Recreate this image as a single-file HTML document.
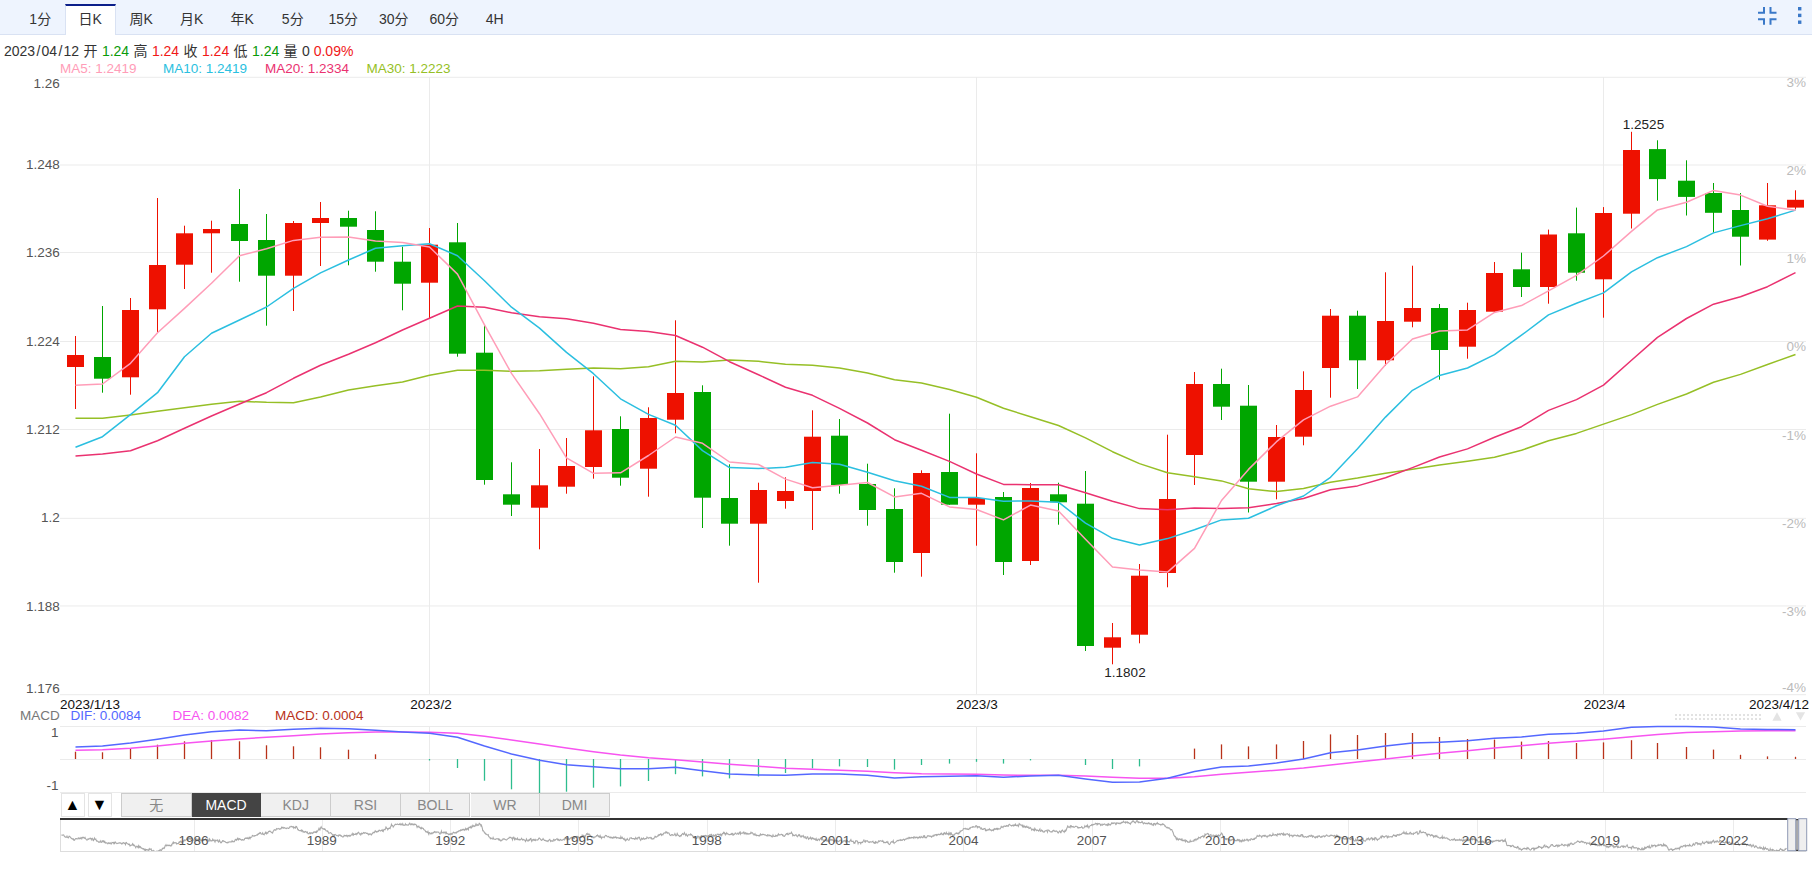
<!DOCTYPE html>
<html lang="zh"><head><meta charset="utf-8"><title>K线图</title>
<style>
html,body{margin:0;padding:0;background:#fff;}
body{width:1812px;height:886px;position:relative;overflow:hidden;font-family:"Liberation Sans","Noto Sans CJK SC",sans-serif;}
.bar{position:absolute;left:0;top:0;width:1812px;height:34px;background:#eef4fe;border-bottom:1px solid #d9e2f3;}
.tab{position:absolute;top:4px;width:50.5px;height:31px;line-height:30px;text-align:center;font-size:14px;color:#333;box-sizing:border-box;}
.tab.on{background:#fff;border-top:2px solid #0b1f8a;border-left:1px solid #d9e2f3;border-right:1px solid #d9e2f3;line-height:27px;}
.info{position:absolute;left:4px;top:41px;height:20px;line-height:20px;font-size:14px;color:#333;white-space:nowrap;}
.info i{font-style:normal;padding:0 1.25px} .info b{font-weight:normal;padding:0 0.5px} .info .g{color:#0a9a0a} .info .r{color:#f01818}
.ab{position:absolute;top:793px;width:24px;height:24px;box-sizing:border-box;border:1px solid #e4e4e4;background:#fff;font-size:16px;line-height:22px;text-align:center;color:#000;}
.it{position:absolute;top:793px;width:69.7px;height:24px;box-sizing:border-box;border:1px solid #ccc;border-left:none;background:#f0f0f0;color:#888;font-size:14px;line-height:23px;text-align:center;}
.it.on{background:#444;color:#fff;border-color:#444;}
svg{position:absolute;left:0;top:0;}
</style></head><body>
<div class="bar"></div>
<div class="tab" style="left:15.0px">1分</div><div class="tab on" style="left:65.0px">日K</div><div class="tab" style="left:116.0px">周K</div><div class="tab" style="left:166.5px">月K</div><div class="tab" style="left:217.0px">年K</div><div class="tab" style="left:267.5px">5分</div><div class="tab" style="left:318.0px">15分</div><div class="tab" style="left:368.5px">30分</div><div class="tab" style="left:419.0px">60分</div><div class="tab" style="left:469.5px">4H</div>
<svg width="1812" height="886" viewBox="0 0 1812 886">
<g fill="none" stroke="#3a78c8" stroke-width="2"><path d="M1758,12.7 H1764 V7"/><path d="M1770.5,7 V12.7 H1776.5"/><path d="M1758,19.2 H1764 V24.7"/><path d="M1776.5,19.2 H1770.5 V24.7"/></g>
<g fill="#3a78c8"><rect x="1798" y="7" width="3.4" height="3.4"/><rect x="1798" y="13.7" width="3.4" height="3.4"/><rect x="1798" y="20.5" width="3.4" height="3.4"/></g>
<line x1="60" y1="77.3" x2="1806" y2="77.3" stroke="#ebebeb" stroke-width="1"/>
<line x1="60" y1="165.0" x2="1806" y2="165.0" stroke="#ebebeb" stroke-width="1"/>
<line x1="60" y1="252.5" x2="1806" y2="252.5" stroke="#ebebeb" stroke-width="1"/>
<line x1="60" y1="341.5" x2="1806" y2="341.5" stroke="#ebebeb" stroke-width="1"/>
<line x1="60" y1="429.5" x2="1806" y2="429.5" stroke="#ebebeb" stroke-width="1"/>
<line x1="60" y1="518.35" x2="1806" y2="518.35" stroke="#ebebeb" stroke-width="1"/>
<line x1="60" y1="605.95" x2="1806" y2="605.95" stroke="#ebebeb" stroke-width="1"/>
<line x1="60" y1="694.7" x2="1806" y2="694.7" stroke="#ebebeb" stroke-width="1"/>
<line x1="429.5" y1="77" x2="429.5" y2="694" stroke="#ebebeb" stroke-width="1"/>
<line x1="429.5" y1="726" x2="429.5" y2="792" stroke="#ebebeb" stroke-width="1"/>
<line x1="976.5" y1="77" x2="976.5" y2="694" stroke="#ebebeb" stroke-width="1"/>
<line x1="976.5" y1="726" x2="976.5" y2="792" stroke="#ebebeb" stroke-width="1"/>
<line x1="1603.5" y1="77" x2="1603.5" y2="694" stroke="#ebebeb" stroke-width="1"/>
<line x1="1603.5" y1="726" x2="1603.5" y2="792" stroke="#ebebeb" stroke-width="1"/>
<line x1="60" y1="726.5" x2="1806" y2="726.5" stroke="#ebebeb" stroke-width="1"/>
<line x1="60" y1="759.5" x2="1806" y2="759.5" stroke="#ebebeb" stroke-width="1"/>
<line x1="60" y1="792.5" x2="1806" y2="792.5" stroke="#ebebeb" stroke-width="1"/>
<line x1="75.5" y1="336.0" x2="75.5" y2="409.0" stroke="#ee1100" stroke-width="1"/>
<rect x="67.0" y="355.0" width="17" height="12.0" fill="#ee1100"/>
<line x1="102.5" y1="306.0" x2="102.5" y2="392.7" stroke="#00a600" stroke-width="1"/>
<rect x="94.0" y="357.0" width="17" height="21.7" fill="#00a600"/>
<line x1="130.5" y1="298.0" x2="130.5" y2="394.7" stroke="#ee1100" stroke-width="1"/>
<rect x="122.0" y="310.0" width="17" height="67.3" fill="#ee1100"/>
<line x1="157.5" y1="198.0" x2="157.5" y2="332.0" stroke="#ee1100" stroke-width="1"/>
<rect x="149.0" y="265.0" width="17" height="44.3" fill="#ee1100"/>
<line x1="184.5" y1="225.7" x2="184.5" y2="289.0" stroke="#ee1100" stroke-width="1"/>
<rect x="176.0" y="233.3" width="17" height="31.4" fill="#ee1100"/>
<line x1="211.5" y1="220.7" x2="211.5" y2="272.7" stroke="#ee1100" stroke-width="1"/>
<rect x="203.0" y="229.0" width="17" height="4.3" fill="#ee1100"/>
<line x1="239.5" y1="189.0" x2="239.5" y2="281.7" stroke="#00a600" stroke-width="1"/>
<rect x="231.0" y="224.0" width="17" height="17.0" fill="#00a600"/>
<line x1="266.5" y1="214.0" x2="266.5" y2="325.7" stroke="#00a600" stroke-width="1"/>
<rect x="258.0" y="240.0" width="17" height="35.7" fill="#00a600"/>
<line x1="293.5" y1="221.0" x2="293.5" y2="311.0" stroke="#ee1100" stroke-width="1"/>
<rect x="285.0" y="223.0" width="17" height="52.7" fill="#ee1100"/>
<line x1="320.5" y1="202.0" x2="320.5" y2="266.0" stroke="#ee1100" stroke-width="1"/>
<rect x="312.0" y="218.0" width="17" height="5.0" fill="#ee1100"/>
<line x1="348.5" y1="210.7" x2="348.5" y2="265.3" stroke="#00a600" stroke-width="1"/>
<rect x="340.0" y="218.0" width="17" height="8.7" fill="#00a600"/>
<line x1="375.5" y1="211.3" x2="375.5" y2="271.7" stroke="#00a600" stroke-width="1"/>
<rect x="367.0" y="230.0" width="17" height="31.7" fill="#00a600"/>
<line x1="402.5" y1="246.7" x2="402.5" y2="310.3" stroke="#00a600" stroke-width="1"/>
<rect x="394.0" y="261.7" width="17" height="22.0" fill="#00a600"/>
<line x1="429.5" y1="228.0" x2="429.5" y2="318.3" stroke="#ee1100" stroke-width="1"/>
<rect x="421.0" y="244.7" width="17" height="38.0" fill="#ee1100"/>
<line x1="457.5" y1="223.0" x2="457.5" y2="356.7" stroke="#00a600" stroke-width="1"/>
<rect x="449.0" y="242.3" width="17" height="111.4" fill="#00a600"/>
<line x1="484.5" y1="324.0" x2="484.5" y2="484.7" stroke="#00a600" stroke-width="1"/>
<rect x="476.0" y="352.7" width="17" height="127.3" fill="#00a600"/>
<line x1="511.5" y1="462.3" x2="511.5" y2="516.0" stroke="#00a600" stroke-width="1"/>
<rect x="503.0" y="494.3" width="17" height="10.4" fill="#00a600"/>
<line x1="539.5" y1="449.0" x2="539.5" y2="549.3" stroke="#ee1100" stroke-width="1"/>
<rect x="531.0" y="485.3" width="17" height="22.4" fill="#ee1100"/>
<line x1="566.5" y1="438.0" x2="566.5" y2="493.7" stroke="#ee1100" stroke-width="1"/>
<rect x="558.0" y="466.0" width="17" height="20.7" fill="#ee1100"/>
<line x1="593.5" y1="376.3" x2="593.5" y2="478.7" stroke="#ee1100" stroke-width="1"/>
<rect x="585.0" y="430.3" width="17" height="36.7" fill="#ee1100"/>
<line x1="620.5" y1="416.3" x2="620.5" y2="485.7" stroke="#00a600" stroke-width="1"/>
<rect x="612.0" y="429.0" width="17" height="48.7" fill="#00a600"/>
<line x1="648.5" y1="407.3" x2="648.5" y2="496.7" stroke="#ee1100" stroke-width="1"/>
<rect x="640.0" y="418.0" width="17" height="50.7" fill="#ee1100"/>
<line x1="675.5" y1="320.3" x2="675.5" y2="433.3" stroke="#ee1100" stroke-width="1"/>
<rect x="667.0" y="393.0" width="17" height="26.7" fill="#ee1100"/>
<line x1="702.5" y1="385.3" x2="702.5" y2="528.0" stroke="#00a600" stroke-width="1"/>
<rect x="694.0" y="392.0" width="17" height="105.7" fill="#00a600"/>
<line x1="729.5" y1="464.3" x2="729.5" y2="545.7" stroke="#00a600" stroke-width="1"/>
<rect x="721.0" y="498.0" width="17" height="25.7" fill="#00a600"/>
<line x1="758.5" y1="482.7" x2="758.5" y2="582.7" stroke="#ee1100" stroke-width="1"/>
<rect x="750.0" y="490.0" width="17" height="33.7" fill="#ee1100"/>
<line x1="785.5" y1="477.3" x2="785.5" y2="508.7" stroke="#ee1100" stroke-width="1"/>
<rect x="777.0" y="491.0" width="17" height="10.0" fill="#ee1100"/>
<line x1="812.5" y1="410.3" x2="812.5" y2="530.0" stroke="#ee1100" stroke-width="1"/>
<rect x="804.0" y="436.7" width="17" height="54.3" fill="#ee1100"/>
<line x1="839.5" y1="419.0" x2="839.5" y2="493.7" stroke="#00a600" stroke-width="1"/>
<rect x="831.0" y="435.7" width="17" height="49.3" fill="#00a600"/>
<line x1="867.5" y1="463.7" x2="867.5" y2="525.7" stroke="#00a600" stroke-width="1"/>
<rect x="859.0" y="484.0" width="17" height="26.0" fill="#00a600"/>
<line x1="894.5" y1="488.3" x2="894.5" y2="572.7" stroke="#00a600" stroke-width="1"/>
<rect x="886.0" y="509.0" width="17" height="53.0" fill="#00a600"/>
<line x1="921.5" y1="470.3" x2="921.5" y2="576.7" stroke="#ee1100" stroke-width="1"/>
<rect x="913.0" y="473.0" width="17" height="80.0" fill="#ee1100"/>
<line x1="949.5" y1="413.7" x2="949.5" y2="504.7" stroke="#00a600" stroke-width="1"/>
<rect x="941.0" y="472.0" width="17" height="32.7" fill="#00a600"/>
<line x1="976.5" y1="453.3" x2="976.5" y2="545.7" stroke="#ee1100" stroke-width="1"/>
<rect x="968.0" y="498.0" width="17" height="6.7" fill="#ee1100"/>
<line x1="1003.5" y1="492.0" x2="1003.5" y2="575.0" stroke="#00a600" stroke-width="1"/>
<rect x="995.0" y="497.0" width="17" height="65.0" fill="#00a600"/>
<line x1="1030.5" y1="483.0" x2="1030.5" y2="565.0" stroke="#ee1100" stroke-width="1"/>
<rect x="1022.0" y="488.0" width="17" height="73.0" fill="#ee1100"/>
<line x1="1058.5" y1="482.7" x2="1058.5" y2="524.7" stroke="#00a600" stroke-width="1"/>
<rect x="1050.0" y="494.3" width="17" height="8.0" fill="#00a600"/>
<line x1="1085.5" y1="471.0" x2="1085.5" y2="651.0" stroke="#00a600" stroke-width="1"/>
<rect x="1077.0" y="503.7" width="17" height="142.3" fill="#00a600"/>
<line x1="1112.5" y1="623.0" x2="1112.5" y2="664.3" stroke="#ee1100" stroke-width="1"/>
<rect x="1104.0" y="637.3" width="17" height="10.4" fill="#ee1100"/>
<line x1="1139.5" y1="564.0" x2="1139.5" y2="643.3" stroke="#ee1100" stroke-width="1"/>
<rect x="1131.0" y="575.7" width="17" height="59.0" fill="#ee1100"/>
<line x1="1167.5" y1="434.7" x2="1167.5" y2="587.3" stroke="#ee1100" stroke-width="1"/>
<rect x="1159.0" y="499.0" width="17" height="74.0" fill="#ee1100"/>
<line x1="1194.5" y1="372.0" x2="1194.5" y2="485.0" stroke="#ee1100" stroke-width="1"/>
<rect x="1186.0" y="384.0" width="17" height="71.0" fill="#ee1100"/>
<line x1="1221.5" y1="368.7" x2="1221.5" y2="420.0" stroke="#00a600" stroke-width="1"/>
<rect x="1213.0" y="384.0" width="17" height="22.7" fill="#00a600"/>
<line x1="1248.5" y1="385.0" x2="1248.5" y2="512.5" stroke="#00a600" stroke-width="1"/>
<rect x="1240.0" y="405.7" width="17" height="76.0" fill="#00a600"/>
<line x1="1276.5" y1="425.0" x2="1276.5" y2="499.3" stroke="#ee1100" stroke-width="1"/>
<rect x="1268.0" y="437.0" width="17" height="44.7" fill="#ee1100"/>
<line x1="1303.5" y1="371.3" x2="1303.5" y2="445.3" stroke="#ee1100" stroke-width="1"/>
<rect x="1295.0" y="390.0" width="17" height="46.7" fill="#ee1100"/>
<line x1="1330.5" y1="309.0" x2="1330.5" y2="397.7" stroke="#ee1100" stroke-width="1"/>
<rect x="1322.0" y="315.7" width="17" height="52.3" fill="#ee1100"/>
<line x1="1357.5" y1="310.7" x2="1357.5" y2="389.0" stroke="#00a600" stroke-width="1"/>
<rect x="1349.0" y="315.7" width="17" height="44.6" fill="#00a600"/>
<line x1="1385.5" y1="272.3" x2="1385.5" y2="365.7" stroke="#ee1100" stroke-width="1"/>
<rect x="1377.0" y="321.0" width="17" height="39.3" fill="#ee1100"/>
<line x1="1412.5" y1="265.7" x2="1412.5" y2="327.3" stroke="#ee1100" stroke-width="1"/>
<rect x="1404.0" y="308.0" width="17" height="13.7" fill="#ee1100"/>
<line x1="1439.5" y1="304.0" x2="1439.5" y2="379.7" stroke="#00a600" stroke-width="1"/>
<rect x="1431.0" y="308.0" width="17" height="42.0" fill="#00a600"/>
<line x1="1467.5" y1="302.7" x2="1467.5" y2="358.7" stroke="#ee1100" stroke-width="1"/>
<rect x="1459.0" y="310.0" width="17" height="36.7" fill="#ee1100"/>
<line x1="1494.5" y1="262.0" x2="1494.5" y2="311.7" stroke="#ee1100" stroke-width="1"/>
<rect x="1486.0" y="273.0" width="17" height="38.7" fill="#ee1100"/>
<line x1="1521.5" y1="252.7" x2="1521.5" y2="297.0" stroke="#00a600" stroke-width="1"/>
<rect x="1513.0" y="269.3" width="17" height="17.7" fill="#00a600"/>
<line x1="1548.5" y1="229.6" x2="1548.5" y2="303.7" stroke="#ee1100" stroke-width="1"/>
<rect x="1540.0" y="234.5" width="17" height="52.5" fill="#ee1100"/>
<line x1="1576.5" y1="207.6" x2="1576.5" y2="280.7" stroke="#00a600" stroke-width="1"/>
<rect x="1568.0" y="233.3" width="17" height="39.4" fill="#00a600"/>
<line x1="1603.5" y1="207.1" x2="1603.5" y2="317.7" stroke="#ee1100" stroke-width="1"/>
<rect x="1595.0" y="213.0" width="17" height="66.3" fill="#ee1100"/>
<line x1="1631.5" y1="131.8" x2="1631.5" y2="228.5" stroke="#ee1100" stroke-width="1"/>
<rect x="1623.0" y="150.0" width="17" height="63.7" fill="#ee1100"/>
<line x1="1657.5" y1="140.3" x2="1657.5" y2="200.7" stroke="#00a600" stroke-width="1"/>
<rect x="1649.0" y="149.1" width="17" height="30.0" fill="#00a600"/>
<line x1="1686.5" y1="160.3" x2="1686.5" y2="215.5" stroke="#00a600" stroke-width="1"/>
<rect x="1678.0" y="180.7" width="17" height="16.2" fill="#00a600"/>
<line x1="1713.5" y1="183.0" x2="1713.5" y2="232.6" stroke="#00a600" stroke-width="1"/>
<rect x="1705.0" y="193.0" width="17" height="19.8" fill="#00a600"/>
<line x1="1740.5" y1="193.0" x2="1740.5" y2="265.5" stroke="#00a600" stroke-width="1"/>
<rect x="1732.0" y="210.0" width="17" height="26.7" fill="#00a600"/>
<line x1="1767.5" y1="183.0" x2="1767.5" y2="240.8" stroke="#ee1100" stroke-width="1"/>
<rect x="1759.0" y="205.3" width="17" height="34.3" fill="#ee1100"/>
<line x1="1795.5" y1="190.3" x2="1795.5" y2="209.4" stroke="#ee1100" stroke-width="1"/>
<rect x="1787.0" y="199.8" width="17" height="7.8" fill="#ee1100"/>
<polyline points="75.5,418.3 102.5,418.3 130.5,415.0 157.5,411.3 184.5,407.7 211.5,404.3 239.5,401.3 266.5,402.3 293.5,402.7 320.5,397.0 348.5,390.0 375.5,385.7 402.5,382.0 429.5,375.3 457.5,370.3 484.5,370.3 511.5,371.3 539.5,370.7 566.5,369.3 593.5,368.0 620.5,368.7 648.5,366.7 675.5,361.3 702.5,362.0 729.5,360.0 758.5,361.3 785.5,364.3 812.5,365.3 839.5,368.0 867.5,372.9 894.5,379.8 921.5,383.0 949.5,389.5 976.5,397.2 1003.5,408.2 1030.5,416.8 1058.5,425.5 1085.5,437.9 1112.5,451.7 1139.5,463.6 1167.5,472.7 1194.5,476.8 1221.5,480.9 1248.5,488.8 1276.5,491.6 1303.5,488.6 1330.5,482.2 1357.5,478.1 1385.5,473.2 1412.5,469.2 1439.5,464.9 1467.5,461.3 1494.5,457.3 1521.5,450.3 1548.5,440.7 1576.5,433.4 1603.5,424.1 1631.5,414.6 1657.5,404.4 1686.5,394.0 1713.5,382.3 1740.5,374.4 1767.5,364.5 1795.5,354.5" fill="none" stroke="#96bf26" stroke-width="1.5" stroke-linejoin="round"/>
<polyline points="75.5,456.0 102.5,454.0 130.5,450.7 157.5,440.7 184.5,428.3 211.5,416.0 239.5,404.0 266.5,392.7 293.5,378.3 320.5,365.3 348.5,354.3 375.5,342.7 402.5,330.0 429.5,318.3 457.5,306.0 484.5,307.3 511.5,312.7 539.5,316.7 566.5,318.7 593.5,323.3 620.5,329.4 648.5,331.4 675.5,335.5 702.5,347.2 729.5,361.7 758.5,374.7 785.5,387.2 812.5,395.3 839.5,408.4 867.5,423.0 894.5,439.7 921.5,450.3 949.5,461.4 976.5,474.0 1003.5,484.4 1030.5,484.8 1058.5,484.7 1085.5,492.8 1112.5,501.3 1139.5,508.6 1167.5,509.7 1194.5,508.0 1221.5,508.6 1248.5,507.8 1276.5,503.5 1303.5,498.5 1330.5,489.7 1357.5,485.9 1385.5,477.7 1412.5,467.6 1439.5,457.0 1467.5,448.9 1494.5,437.3 1521.5,426.7 1548.5,410.4 1576.5,399.6 1603.5,385.1 1631.5,360.3 1657.5,337.4 1686.5,318.5 1713.5,304.2 1740.5,296.8 1767.5,286.7 1795.5,272.6" fill="none" stroke="#ea3270" stroke-width="1.5" stroke-linejoin="round"/>
<polyline points="75.5,447.3 102.5,436.7 130.5,414.7 157.5,392.7 184.5,356.7 211.5,333.3 239.5,320.0 266.5,307.0 293.5,288.3 320.5,272.9 348.5,260.0 375.5,248.3 402.5,245.7 429.5,243.7 457.5,255.7 484.5,280.8 511.5,307.2 539.5,328.1 566.5,352.4 593.5,373.7 620.5,398.8 648.5,414.4 675.5,425.3 702.5,450.6 729.5,467.6 758.5,468.6 785.5,467.3 812.5,462.4 839.5,464.3 867.5,472.3 894.5,480.7 921.5,486.2 949.5,497.4 976.5,497.4 1003.5,501.2 1030.5,501.0 1058.5,502.2 1085.5,523.1 1112.5,538.3 1139.5,544.9 1167.5,538.6 1194.5,529.7 1221.5,519.9 1248.5,518.3 1276.5,505.8 1303.5,496.0 1330.5,477.3 1357.5,448.7 1385.5,417.1 1412.5,390.3 1439.5,375.4 1467.5,368.0 1494.5,354.7 1521.5,335.2 1548.5,314.9 1576.5,303.2 1603.5,292.9 1631.5,271.9 1657.5,257.7 1686.5,246.6 1713.5,232.9 1740.5,225.6 1767.5,218.8 1795.5,210.1" fill="none" stroke="#2bbfe0" stroke-width="1.5" stroke-linejoin="round"/>
<polyline points="75.5,385.3 102.5,384.0 130.5,363.3 157.5,332.7 184.5,308.4 211.5,283.2 239.5,255.7 266.5,248.8 293.5,240.4 320.5,237.3 348.5,236.9 375.5,241.0 402.5,242.6 429.5,247.0 457.5,274.1 484.5,324.8 511.5,373.4 539.5,413.7 566.5,457.9 593.5,473.3 620.5,472.8 648.5,455.5 675.5,437.0 702.5,443.3 729.5,462.0 758.5,464.5 785.5,479.1 812.5,487.8 839.5,485.3 867.5,482.5 894.5,496.9 921.5,493.3 949.5,506.9 976.5,509.5 1003.5,519.9 1030.5,505.1 1058.5,511.0 1085.5,539.3 1112.5,567.1 1139.5,569.9 1167.5,572.1 1194.5,548.4 1221.5,500.5 1248.5,469.4 1276.5,441.7 1303.5,419.9 1330.5,406.2 1357.5,396.9 1385.5,364.8 1412.5,339.0 1439.5,331.0 1467.5,329.9 1494.5,312.4 1521.5,305.6 1548.5,290.9 1576.5,275.4 1603.5,256.0 1631.5,231.4 1657.5,209.9 1686.5,202.3 1713.5,190.4 1740.5,195.1 1767.5,206.2 1795.5,210.3" fill="none" stroke="#ff9db8" stroke-width="1.5" stroke-linejoin="round"/>
<line x1="75.5" y1="759" x2="75.5" y2="751.7" stroke="#b8321a" stroke-width="1.3"/>
<line x1="102.5" y1="759" x2="102.5" y2="752.3" stroke="#b8321a" stroke-width="1.3"/>
<line x1="130.5" y1="759" x2="130.5" y2="748.3" stroke="#b8321a" stroke-width="1.3"/>
<line x1="157.5" y1="759" x2="157.5" y2="744.7" stroke="#b8321a" stroke-width="1.3"/>
<line x1="184.5" y1="759" x2="184.5" y2="741.3" stroke="#b8321a" stroke-width="1.3"/>
<line x1="211.5" y1="759" x2="211.5" y2="740.0" stroke="#b8321a" stroke-width="1.3"/>
<line x1="239.5" y1="759" x2="239.5" y2="741.3" stroke="#b8321a" stroke-width="1.3"/>
<line x1="266.5" y1="759" x2="266.5" y2="745.3" stroke="#b8321a" stroke-width="1.3"/>
<line x1="293.5" y1="759" x2="293.5" y2="746.3" stroke="#b8321a" stroke-width="1.3"/>
<line x1="320.5" y1="759" x2="320.5" y2="747.3" stroke="#b8321a" stroke-width="1.3"/>
<line x1="348.5" y1="759" x2="348.5" y2="749.7" stroke="#b8321a" stroke-width="1.3"/>
<line x1="375.5" y1="759" x2="375.5" y2="754.3" stroke="#b8321a" stroke-width="1.3"/>
<line x1="429.5" y1="759" x2="429.5" y2="760.5" stroke="#2ebd8e" stroke-width="1.3"/>
<line x1="457.5" y1="759" x2="457.5" y2="768.0" stroke="#2ebd8e" stroke-width="1.3"/>
<line x1="484.5" y1="759" x2="484.5" y2="780.7" stroke="#2ebd8e" stroke-width="1.3"/>
<line x1="511.5" y1="759" x2="511.5" y2="789.3" stroke="#2ebd8e" stroke-width="1.3"/>
<line x1="539.5" y1="759" x2="539.5" y2="793.0" stroke="#2ebd8e" stroke-width="1.3"/>
<line x1="566.5" y1="759" x2="566.5" y2="791.7" stroke="#2ebd8e" stroke-width="1.3"/>
<line x1="593.5" y1="759" x2="593.5" y2="787.7" stroke="#2ebd8e" stroke-width="1.3"/>
<line x1="620.5" y1="759" x2="620.5" y2="786.4" stroke="#2ebd8e" stroke-width="1.3"/>
<line x1="648.5" y1="759" x2="648.5" y2="781.0" stroke="#2ebd8e" stroke-width="1.3"/>
<line x1="675.5" y1="759" x2="675.5" y2="774.2" stroke="#2ebd8e" stroke-width="1.3"/>
<line x1="702.5" y1="759" x2="702.5" y2="776.4" stroke="#2ebd8e" stroke-width="1.3"/>
<line x1="729.5" y1="759" x2="729.5" y2="778.4" stroke="#2ebd8e" stroke-width="1.3"/>
<line x1="758.5" y1="759" x2="758.5" y2="776.4" stroke="#2ebd8e" stroke-width="1.3"/>
<line x1="785.5" y1="759" x2="785.5" y2="773.0" stroke="#2ebd8e" stroke-width="1.3"/>
<line x1="812.5" y1="759" x2="812.5" y2="768.4" stroke="#2ebd8e" stroke-width="1.3"/>
<line x1="839.5" y1="759" x2="839.5" y2="766.4" stroke="#2ebd8e" stroke-width="1.3"/>
<line x1="867.5" y1="759" x2="867.5" y2="767.0" stroke="#2ebd8e" stroke-width="1.3"/>
<line x1="894.5" y1="759" x2="894.5" y2="769.6" stroke="#2ebd8e" stroke-width="1.3"/>
<line x1="921.5" y1="759" x2="921.5" y2="765.0" stroke="#2ebd8e" stroke-width="1.3"/>
<line x1="949.5" y1="759" x2="949.5" y2="763.6" stroke="#2ebd8e" stroke-width="1.3"/>
<line x1="976.5" y1="759" x2="976.5" y2="761.8" stroke="#2ebd8e" stroke-width="1.3"/>
<line x1="1003.5" y1="759" x2="1003.5" y2="763.6" stroke="#2ebd8e" stroke-width="1.3"/>
<line x1="1030.5" y1="759" x2="1030.5" y2="760.4" stroke="#2ebd8e" stroke-width="1.3"/>
<line x1="1085.5" y1="759" x2="1085.5" y2="765.0" stroke="#2ebd8e" stroke-width="1.3"/>
<line x1="1112.5" y1="759" x2="1112.5" y2="769.0" stroke="#2ebd8e" stroke-width="1.3"/>
<line x1="1139.5" y1="759" x2="1139.5" y2="766.4" stroke="#2ebd8e" stroke-width="1.3"/>
<line x1="1194.5" y1="759" x2="1194.5" y2="748.6" stroke="#b8321a" stroke-width="1.3"/>
<line x1="1221.5" y1="759" x2="1221.5" y2="744.4" stroke="#b8321a" stroke-width="1.3"/>
<line x1="1248.5" y1="759" x2="1248.5" y2="746.4" stroke="#b8321a" stroke-width="1.3"/>
<line x1="1276.5" y1="759" x2="1276.5" y2="744.4" stroke="#b8321a" stroke-width="1.3"/>
<line x1="1303.5" y1="759" x2="1303.5" y2="741.0" stroke="#b8321a" stroke-width="1.3"/>
<line x1="1330.5" y1="759" x2="1330.5" y2="734.4" stroke="#b8321a" stroke-width="1.3"/>
<line x1="1357.5" y1="759" x2="1357.5" y2="735.0" stroke="#b8321a" stroke-width="1.3"/>
<line x1="1385.5" y1="759" x2="1385.5" y2="733.0" stroke="#b8321a" stroke-width="1.3"/>
<line x1="1412.5" y1="759" x2="1412.5" y2="733.0" stroke="#b8321a" stroke-width="1.3"/>
<line x1="1439.5" y1="759" x2="1439.5" y2="737.0" stroke="#b8321a" stroke-width="1.3"/>
<line x1="1467.5" y1="759" x2="1467.5" y2="739.0" stroke="#b8321a" stroke-width="1.3"/>
<line x1="1494.5" y1="759" x2="1494.5" y2="739.6" stroke="#b8321a" stroke-width="1.3"/>
<line x1="1521.5" y1="759" x2="1521.5" y2="741.6" stroke="#b8321a" stroke-width="1.3"/>
<line x1="1548.5" y1="759" x2="1548.5" y2="741.0" stroke="#b8321a" stroke-width="1.3"/>
<line x1="1576.5" y1="759" x2="1576.5" y2="743.0" stroke="#b8321a" stroke-width="1.3"/>
<line x1="1603.5" y1="759" x2="1603.5" y2="742.4" stroke="#b8321a" stroke-width="1.3"/>
<line x1="1631.5" y1="759" x2="1631.5" y2="740.2" stroke="#b8321a" stroke-width="1.3"/>
<line x1="1657.5" y1="759" x2="1657.5" y2="743.0" stroke="#b8321a" stroke-width="1.3"/>
<line x1="1686.5" y1="759" x2="1686.5" y2="747.0" stroke="#b8321a" stroke-width="1.3"/>
<line x1="1713.5" y1="759" x2="1713.5" y2="749.6" stroke="#b8321a" stroke-width="1.3"/>
<line x1="1740.5" y1="759" x2="1740.5" y2="754.8" stroke="#b8321a" stroke-width="1.3"/>
<line x1="1767.5" y1="759" x2="1767.5" y2="756.4" stroke="#b8321a" stroke-width="1.3"/>
<line x1="1795.5" y1="759" x2="1795.5" y2="756.8" stroke="#b8321a" stroke-width="1.3"/>
<polyline points="75.5,750.3 102.5,749.7 130.5,748.3 157.5,746.0 184.5,743.3 211.5,741.0 239.5,739.0 266.5,737.3 293.5,735.7 320.5,734.0 348.5,732.7 375.5,732.0 402.5,732.0 429.5,732.3 457.5,733.3 484.5,736.3 511.5,740.0 539.5,744.0 566.5,748.0 593.5,751.7 620.5,755.0 648.5,757.7 675.5,759.7 702.5,762.0 729.5,764.3 758.5,766.3 785.5,768.3 812.5,769.3 839.5,770.3 867.5,771.3 894.5,772.7 921.5,773.7 949.5,774.0 976.5,774.3 1003.5,775.0 1030.5,775.3 1058.5,775.3 1085.5,776.0 1112.5,777.3 1139.5,778.3 1167.5,778.3 1194.5,776.7 1221.5,774.3 1248.5,772.3 1276.5,770.3 1303.5,768.0 1330.5,765.0 1357.5,762.0 1385.5,759.0 1412.5,756.0 1439.5,753.3 1467.5,750.7 1494.5,748.0 1521.5,745.7 1548.5,743.3 1576.5,741.3 1603.5,739.3 1631.5,736.7 1657.5,734.5 1686.5,732.5 1713.5,731.7 1740.5,731.1 1767.5,730.8 1795.5,730.8" fill="none" stroke="#f754f0" stroke-width="1.5" stroke-linejoin="round"/>
<polyline points="75.5,747.0 102.5,746.0 130.5,743.0 157.5,739.3 184.5,735.0 211.5,731.7 239.5,730.0 266.5,730.7 293.5,729.3 320.5,728.3 348.5,728.7 375.5,730.3 402.5,732.0 429.5,733.3 457.5,737.3 484.5,746.0 511.5,754.0 539.5,760.3 566.5,764.7 593.5,766.7 620.5,768.7 648.5,768.7 675.5,767.3 702.5,770.7 729.5,774.0 758.5,775.0 785.5,775.3 812.5,774.0 839.5,774.0 867.5,775.3 894.5,778.0 921.5,776.7 949.5,776.3 976.5,775.7 1003.5,777.3 1030.5,776.0 1058.5,775.3 1085.5,779.0 1112.5,782.3 1139.5,782.0 1167.5,778.3 1194.5,771.5 1221.5,767.0 1248.5,766.0 1276.5,763.0 1303.5,759.0 1330.5,752.7 1357.5,750.0 1385.5,746.0 1412.5,743.0 1439.5,742.3 1467.5,740.7 1494.5,738.3 1521.5,737.0 1548.5,734.3 1576.5,733.3 1603.5,731.0 1631.5,727.3 1657.5,726.5 1686.5,726.5 1713.5,727.0 1740.5,729.0 1767.5,729.5 1795.5,729.7" fill="none" stroke="#5468ff" stroke-width="1.5" stroke-linejoin="round"/>
<line x1="194.5" y1="820" x2="194.5" y2="851" stroke="#ebebeb" stroke-width="1"/>
<line x1="322.5" y1="820" x2="322.5" y2="851" stroke="#ebebeb" stroke-width="1"/>
<line x1="450.5" y1="820" x2="450.5" y2="851" stroke="#ebebeb" stroke-width="1"/>
<line x1="578.5" y1="820" x2="578.5" y2="851" stroke="#ebebeb" stroke-width="1"/>
<line x1="707.5" y1="820" x2="707.5" y2="851" stroke="#ebebeb" stroke-width="1"/>
<line x1="835.5" y1="820" x2="835.5" y2="851" stroke="#ebebeb" stroke-width="1"/>
<line x1="963.5" y1="820" x2="963.5" y2="851" stroke="#ebebeb" stroke-width="1"/>
<line x1="1092.5" y1="820" x2="1092.5" y2="851" stroke="#ebebeb" stroke-width="1"/>
<line x1="1220.5" y1="820" x2="1220.5" y2="851" stroke="#ebebeb" stroke-width="1"/>
<line x1="1348.5" y1="820" x2="1348.5" y2="851" stroke="#ebebeb" stroke-width="1"/>
<line x1="1477.5" y1="820" x2="1477.5" y2="851" stroke="#ebebeb" stroke-width="1"/>
<line x1="1605.5" y1="820" x2="1605.5" y2="851" stroke="#ebebeb" stroke-width="1"/>
<line x1="1733.5" y1="820" x2="1733.5" y2="851" stroke="#ebebeb" stroke-width="1"/>
<clipPath id="nc"><rect x="60" y="820" width="1746" height="31"/></clipPath>
<polyline clip-path="url(#nc)" points="61.6,834.7 62.0,835.2 62.5,835.2 62.9,835.1 63.4,834.8 63.8,835.1 64.3,836.2 64.7,836.5 65.2,837.1 65.6,837.0 66.1,837.2 66.5,837.2 67.0,836.1 67.4,837.1 67.9,837.5 68.3,837.9 68.8,836.8 69.2,836.2 69.7,836.4 70.1,836.9 70.6,837.7 71.0,838.0 71.5,838.6 71.9,838.4 72.4,838.8 72.8,839.2 73.3,838.9 73.7,840.0 74.2,839.9 74.6,840.2 75.1,839.3 75.5,838.7 76.0,838.5 76.4,838.5 76.9,839.0 77.3,839.0 77.8,838.6 78.2,838.0 78.7,837.9 79.1,838.9 79.6,838.2 80.0,838.4 80.5,838.6 80.9,837.6 81.4,837.9 81.8,838.8 82.3,837.3 82.7,837.5 83.2,837.7 83.6,837.4 84.1,838.1 84.5,838.3 85.0,837.5 85.4,838.5 85.9,839.0 86.3,839.5 86.8,840.1 87.2,839.9 87.7,839.6 88.1,838.7 88.6,839.3 89.0,838.9 89.5,838.8 89.9,838.3 90.4,838.2 90.8,838.5 91.3,839.7 91.7,838.5 92.2,838.2 92.6,839.0 93.1,840.3 93.5,840.6 94.0,839.3 94.4,838.1 94.9,839.2 95.3,839.3 95.8,839.1 96.2,840.3 96.7,841.1 97.1,841.0 97.6,841.1 98.0,841.3 98.5,842.1 98.9,842.1 99.4,842.1 99.8,842.1 100.3,840.9 100.7,841.9 101.2,842.3 101.6,842.4 102.1,840.9 102.5,840.9 103.0,841.8 103.4,840.8 103.9,841.2 104.3,842.2 104.8,841.5 105.2,842.8 105.7,843.0 106.1,842.7 106.6,842.9 107.0,843.2 107.5,843.1 107.9,843.7 108.4,843.0 108.8,842.8 109.3,843.6 109.7,843.4 110.2,842.8 110.6,843.4 111.1,844.1 111.5,843.4 112.0,842.4 112.4,842.5 112.9,842.6 113.3,842.5 113.8,843.5 114.2,842.6 114.7,843.5 115.1,842.4 115.6,842.1 116.0,842.7 116.5,843.4 116.9,843.7 117.4,843.5 117.8,843.2 118.3,843.1 118.7,843.2 119.2,842.9 119.6,842.9 120.1,843.1 120.5,842.9 121.0,843.2 121.4,843.3 121.9,844.1 122.3,843.7 122.8,842.9 123.2,842.6 123.7,842.7 124.1,843.4 124.6,843.1 125.0,843.4 125.5,844.5 125.9,842.6 126.4,842.4 126.8,843.1 127.3,843.7 127.7,844.0 128.2,843.9 128.6,844.5 129.1,844.7 129.5,844.3 130.0,846.0 130.4,845.8 130.9,845.2 131.3,845.1 131.8,845.1 132.2,845.2 132.7,843.7 133.1,844.2 133.6,845.5 134.0,845.0 134.5,845.4 134.9,846.3 135.4,846.9 135.8,847.6 136.3,846.2 136.7,846.2 137.2,846.3 137.6,847.0 138.1,847.7 138.5,845.9 139.0,847.1 139.4,846.4 139.9,847.3 140.3,846.6 140.8,847.2 141.2,848.2 141.7,848.1 142.1,848.3 142.6,848.8 143.0,848.7 143.5,848.6 143.9,849.6 144.4,849.9 144.8,849.3 145.3,850.9 145.7,849.5 146.2,850.0 146.6,849.6 147.1,849.6 147.5,850.0 148.0,850.1 148.4,850.4 148.9,849.3 149.3,848.7 149.8,849.7 150.2,849.3 150.7,849.1 151.1,848.8 151.6,850.3 152.0,850.9 152.5,851.8 152.9,850.9 153.4,851.1 153.8,850.6 154.3,851.5 154.7,852.6 155.2,851.9 155.6,852.9 156.1,853.3 156.5,852.9 157.0,851.3 157.4,852.1 157.9,851.6 158.3,850.8 158.8,850.8 159.2,850.7 159.7,851.1 160.1,849.7 160.6,850.0 161.0,850.3 161.5,850.4 161.9,849.4 162.4,848.4 162.8,848.7 163.3,848.3 163.7,848.0 164.2,848.4 164.6,847.6 165.1,845.8 165.5,845.8 166.0,844.8 166.4,845.7 166.9,845.9 167.3,845.3 167.8,845.2 168.2,845.6 168.7,845.3 169.1,845.7 169.6,845.2 170.0,845.5 170.5,845.9 170.9,846.2 171.4,845.0 171.8,845.1 172.3,843.5 172.7,843.0 173.2,842.1 173.6,843.3 174.1,842.6 174.5,842.9 175.0,842.9 175.4,843.0 175.9,842.7 176.3,842.9 176.8,844.0 177.2,843.5 177.7,843.5 178.1,843.7 178.6,843.1 179.0,842.0 179.5,841.7 179.9,842.5 180.4,841.3 180.8,841.1 181.3,842.0 181.7,842.3 182.2,842.0 182.6,842.2 183.1,841.9 183.5,840.9 184.0,840.0 184.4,839.9 184.9,840.8 185.3,840.4 185.8,839.9 186.2,839.6 186.7,839.0 187.1,839.4 187.6,838.9 188.0,839.5 188.5,838.2 188.9,839.0 189.4,838.9 189.8,838.1 190.3,839.2 190.7,839.2 191.2,838.0 191.6,838.2 192.1,838.9 192.5,838.9 193.0,839.6 193.4,840.1 193.9,840.2 194.3,840.1 194.8,840.7 195.2,840.6 195.7,840.4 196.1,838.8 196.6,839.5 197.0,840.3 197.5,839.7 197.9,839.3 198.4,840.5 198.8,838.9 199.3,839.3 199.7,840.8 200.2,839.6 200.6,839.8 201.1,840.7 201.5,840.0 202.0,840.0 202.4,840.2 202.9,839.3 203.3,839.2 203.8,839.5 204.2,839.9 204.7,839.7 205.1,839.5 205.6,838.9 206.0,839.0 206.5,839.8 206.9,839.8 207.4,839.2 207.8,838.9 208.3,840.9 208.7,841.2 209.2,841.0 209.6,839.0 210.1,839.8 210.5,840.2 211.0,841.1 211.4,841.0 211.9,840.6 212.3,840.8 212.8,839.4 213.2,840.4 213.7,840.6 214.1,840.1 214.6,841.0 215.0,841.9 215.5,840.5 215.9,840.1 216.4,840.5 216.8,840.7 217.3,840.5 217.7,840.1 218.2,841.7 218.6,842.1 219.1,841.0 219.5,840.2 220.0,841.7 220.4,842.1 220.9,842.9 221.3,842.8 221.8,841.8 222.2,841.8 222.7,840.5 223.1,840.5 223.6,841.0 224.0,841.6 224.5,841.3 224.9,841.5 225.4,842.0 225.8,842.3 226.3,842.6 226.7,842.6 227.2,842.3 227.6,842.8 228.1,842.7 228.5,842.1 229.0,841.9 229.4,842.0 229.9,841.9 230.3,842.0 230.8,841.9 231.2,841.9 231.7,841.7 232.1,840.8 232.6,841.3 233.0,841.9 233.5,841.8 233.9,841.4 234.4,841.5 234.8,840.6 235.3,839.5 235.7,839.9 236.2,839.6 236.6,840.3 237.1,839.6 237.5,838.2 238.0,838.3 238.4,839.9 238.9,839.6 239.3,838.8 239.8,838.6 240.2,839.3 240.7,839.6 241.1,839.5 241.6,840.2 242.0,840.2 242.5,839.6 242.9,839.6 243.4,840.1 243.8,840.0 244.3,839.9 244.7,838.5 245.2,838.2 245.6,838.4 246.1,837.9 246.5,838.4 247.0,838.3 247.4,838.4 247.9,837.7 248.3,838.9 248.8,838.8 249.2,837.8 249.7,837.3 250.1,838.5 250.6,837.3 251.0,837.3 251.5,837.3 251.9,836.7 252.4,835.5 252.8,835.6 253.3,835.7 253.7,836.1 254.2,836.1 254.6,835.6 255.1,835.8 255.5,835.6 256.0,835.4 256.4,835.1 256.9,834.7 257.3,835.1 257.8,834.2 258.2,833.9 258.7,834.1 259.1,833.3 259.6,833.4 260.0,832.5 260.5,832.7 260.9,833.6 261.4,834.1 261.8,834.0 262.3,833.8 262.7,833.0 263.2,834.4 263.6,834.4 264.1,834.8 264.5,833.8 265.0,833.6 265.4,832.4 265.9,833.3 266.3,833.9 266.8,832.5 267.2,832.8 267.7,833.3 268.1,832.2 268.6,831.4 269.0,831.3 269.5,831.4 269.9,831.0 270.4,831.5 270.8,831.8 271.3,832.2 271.7,832.4 272.2,832.9 272.6,833.0 273.1,831.4 273.5,830.9 274.0,830.2 274.4,829.7 274.9,829.9 275.3,830.0 275.8,830.3 276.2,829.2 276.7,828.6 277.1,828.9 277.6,829.0 278.0,828.8 278.5,828.8 278.9,828.5 279.4,829.1 279.8,829.3 280.3,829.1 280.7,828.6 281.2,828.6 281.6,827.1 282.1,827.2 282.5,827.8 283.0,827.3 283.4,827.9 283.9,828.3 284.3,827.6 284.8,827.8 285.2,827.9 285.7,828.4 286.1,828.7 286.6,828.5 287.0,827.9 287.5,828.0 287.9,828.0 288.4,828.5 288.8,828.5 289.3,827.8 289.7,826.9 290.2,827.0 290.6,826.7 291.1,826.3 291.5,826.6 292.0,826.5 292.4,826.8 292.9,827.2 293.3,826.8 293.8,828.1 294.2,827.3 294.7,827.6 295.1,827.3 295.6,828.0 296.0,826.4 296.5,826.5 296.9,827.3 297.4,828.1 297.8,829.7 298.3,829.6 298.7,830.2 299.2,830.4 299.6,830.7 300.1,830.7 300.5,830.4 301.0,830.8 301.4,830.1 301.9,831.1 302.3,830.4 302.8,830.8 303.2,832.2 303.7,831.7 304.1,831.6 304.6,832.2 305.0,832.0 305.5,831.4 305.9,831.7 306.4,832.2 306.8,832.6 307.3,832.0 307.7,833.2 308.2,833.9 308.6,833.4 309.1,833.3 309.5,832.8 310.0,833.7 310.4,833.0 310.9,833.5 311.3,833.1 311.8,832.7 312.2,833.0 312.7,833.5 313.1,832.9 313.6,832.1 314.0,832.4 314.5,832.0 314.9,831.8 315.4,832.4 315.8,832.4 316.3,831.3 316.7,832.3 317.2,831.4 317.6,831.2 318.1,830.2 318.5,829.8 319.0,828.5 319.4,829.7 319.9,830.1 320.3,828.7 320.8,827.6 321.2,826.8 321.7,828.1 322.1,828.2 322.6,828.5 323.0,828.7 323.5,829.0 323.9,828.8 324.4,829.4 324.8,828.9 325.3,829.6 325.7,830.3 326.2,831.0 326.6,831.0 327.1,830.8 327.5,831.4 328.0,831.4 328.4,832.8 328.9,833.3 329.3,833.1 329.8,832.9 330.2,832.7 330.7,832.6 331.1,833.0 331.6,833.6 332.0,834.2 332.5,834.6 332.9,835.8 333.4,834.8 333.8,834.8 334.3,836.5 334.7,834.7 335.2,834.5 335.6,834.9 336.1,835.1 336.5,835.5 337.0,835.3 337.4,835.7 337.9,835.7 338.3,836.2 338.8,835.0 339.2,834.9 339.7,835.4 340.1,835.2 340.6,835.1 341.0,836.0 341.5,835.9 341.9,836.4 342.4,836.8 342.8,836.7 343.3,836.8 343.7,836.4 344.2,835.3 344.6,835.5 345.1,835.9 345.5,835.5 346.0,835.5 346.4,836.0 346.9,835.2 347.3,835.7 347.8,836.6 348.2,835.8 348.7,835.6 349.1,835.3 349.6,836.1 350.0,835.8 350.5,836.0 350.9,835.1 351.4,834.9 351.8,834.8 352.3,833.6 352.7,834.8 353.2,835.2 353.6,833.8 354.1,834.4 354.5,834.3 355.0,834.5 355.4,834.5 355.9,833.4 356.3,833.5 356.8,834.5 357.2,833.8 357.7,833.2 358.1,832.5 358.6,832.2 359.0,832.9 359.5,834.1 359.9,834.0 360.4,833.8 360.8,834.9 361.3,833.9 361.7,833.2 362.2,833.6 362.6,833.8 363.1,833.0 363.5,832.5 364.0,833.0 364.4,833.3 364.9,832.6 365.3,832.8 365.8,832.8 366.2,833.4 366.7,833.4 367.1,833.4 367.6,833.3 368.0,834.1 368.5,834.8 368.9,834.1 369.4,834.5 369.8,833.8 370.3,833.8 370.7,834.3 371.2,835.0 371.6,834.2 372.1,833.8 372.5,833.7 373.0,832.5 373.4,832.7 373.9,832.3 374.3,832.6 374.8,831.9 375.2,830.8 375.7,831.4 376.1,831.8 376.6,831.5 377.0,832.1 377.5,831.7 377.9,831.2 378.4,831.5 378.8,830.4 379.3,830.2 379.7,830.4 380.2,831.0 380.6,830.7 381.1,830.7 381.5,830.1 382.0,830.2 382.4,831.0 382.9,830.0 383.3,831.2 383.8,830.0 384.2,829.6 384.7,829.4 385.1,829.7 385.6,828.5 386.0,827.1 386.5,827.9 386.9,828.4 387.4,828.5 387.8,829.7 388.3,828.9 388.7,828.4 389.2,828.4 389.6,828.0 390.1,828.5 390.5,826.9 391.0,826.5 391.4,824.3 391.9,825.4 392.3,825.3 392.8,826.0 393.2,827.1 393.7,826.3 394.1,825.7 394.6,825.0 395.0,824.4 395.5,824.1 395.9,824.6 396.4,824.4 396.8,824.3 397.3,824.0 397.7,824.4 398.2,824.6 398.6,824.3 399.1,824.6 399.5,824.3 400.0,823.6 400.4,824.7 400.9,824.8 401.3,824.1 401.8,824.8 402.2,824.9 402.7,823.8 403.1,825.0 403.6,825.1 404.0,825.4 404.5,825.2 404.9,824.9 405.4,823.9 405.8,824.9 406.3,824.9 406.7,824.7 407.2,825.0 407.6,825.0 408.1,825.3 408.5,824.7 409.0,824.6 409.4,823.2 409.9,823.3 410.3,824.0 410.8,824.8 411.2,824.2 411.7,823.9 412.1,824.7 412.6,824.0 413.0,824.2 413.5,824.8 413.9,824.2 414.4,824.6 414.8,824.0 415.3,824.4 415.7,824.5 416.2,824.9 416.6,825.8 417.1,827.3 417.5,826.5 418.0,826.2 418.4,826.8 418.9,826.3 419.3,827.1 419.8,827.8 420.2,827.8 420.7,828.4 421.1,827.6 421.6,828.6 422.0,827.9 422.5,828.1 422.9,828.3 423.4,828.7 423.8,829.7 424.3,830.0 424.7,830.0 425.2,830.6 425.6,831.7 426.1,831.5 426.5,831.7 427.0,832.4 427.4,832.3 427.9,831.5 428.3,833.3 428.8,834.3 429.2,832.5 429.7,832.7 430.1,833.1 430.6,833.8 431.0,834.0 431.5,833.5 431.9,832.7 432.4,832.9 432.8,833.5 433.3,832.7 433.7,832.2 434.2,832.4 434.6,831.5 435.1,831.9 435.5,832.0 436.0,832.6 436.4,832.2 436.9,831.9 437.3,832.0 437.8,832.2 438.2,832.0 438.7,832.2 439.1,832.8 439.6,833.4 440.0,834.1 440.5,833.0 440.9,832.6 441.4,831.1 441.8,832.9 442.3,832.4 442.7,832.6 443.2,833.0 443.6,832.2 444.1,832.8 444.5,832.9 445.0,831.9 445.4,832.6 445.9,833.6 446.3,832.4 446.8,833.3 447.2,833.5 447.7,833.8 448.1,834.0 448.6,834.6 449.0,834.1 449.5,834.5 449.9,834.0 450.4,834.4 450.8,833.6 451.3,833.5 451.7,834.4 452.2,834.2 452.6,833.6 453.1,832.6 453.5,832.1 454.0,832.4 454.4,832.9 454.9,832.9 455.3,832.9 455.8,832.5 456.2,833.0 456.7,832.2 457.1,831.6 457.6,832.0 458.0,831.7 458.5,831.3 458.9,830.8 459.4,830.6 459.8,830.9 460.3,830.9 460.7,829.9 461.2,830.3 461.6,830.2 462.1,829.5 462.5,830.0 463.0,829.6 463.4,829.3 463.9,829.8 464.3,830.3 464.8,829.3 465.2,829.4 465.7,828.5 466.1,829.9 466.6,829.0 467.0,829.4 467.5,828.4 467.9,828.7 468.4,829.6 468.8,827.3 469.3,827.1 469.7,827.4 470.2,827.3 470.6,826.7 471.1,828.1 471.5,827.5 472.0,826.1 472.4,826.7 472.9,825.5 473.3,826.4 473.8,825.9 474.2,825.9 474.7,826.5 475.1,826.2 475.6,825.0 476.0,824.0 476.5,825.1 476.9,825.5 477.4,824.7 477.8,825.1 478.3,825.1 478.7,825.2 479.2,823.4 479.6,823.4 480.1,824.1 480.5,824.6 481.0,825.9 481.4,825.2 481.9,826.7 482.3,828.2 482.8,830.8 483.2,830.6 483.7,831.3 484.1,831.9 484.6,832.9 485.0,832.9 485.5,834.0 485.9,833.7 486.4,834.3 486.8,834.4 487.3,835.0 487.7,835.0 488.2,834.7 488.6,836.3 489.1,837.0 489.5,837.0 490.0,837.7 490.4,838.7 490.9,838.0 491.3,838.2 491.8,838.7 492.2,839.0 492.7,838.7 493.1,837.6 493.6,838.9 494.0,839.2 494.5,839.2 494.9,839.1 495.4,839.4 495.8,839.2 496.3,838.8 496.7,838.7 497.2,838.8 497.6,838.9 498.1,838.7 498.5,839.7 499.0,839.1 499.4,840.1 499.9,839.6 500.3,840.2 500.8,841.0 501.2,840.8 501.7,840.0 502.1,840.0 502.6,840.0 503.0,838.8 503.5,838.8 503.9,839.1 504.4,838.9 504.8,839.1 505.3,839.6 505.7,839.8 506.2,840.0 506.6,839.9 507.1,839.3 507.5,839.0 508.0,838.6 508.4,838.4 508.9,838.2 509.3,837.2 509.8,837.4 510.2,837.6 510.7,837.3 511.1,837.7 511.6,838.3 512.0,838.3 512.5,839.7 512.9,837.7 513.4,838.0 513.8,837.3 514.3,838.5 514.7,840.3 515.2,838.3 515.6,838.7 516.1,839.2 516.5,839.1 517.0,839.5 517.4,838.2 517.9,839.2 518.3,839.6 518.8,839.6 519.2,839.3 519.7,839.9 520.1,839.6 520.6,839.8 521.0,839.5 521.5,838.3 521.9,838.9 522.4,839.4 522.8,840.0 523.3,839.4 523.7,839.5 524.2,840.0 524.6,840.0 525.1,840.7 525.5,841.5 526.0,840.3 526.4,838.9 526.9,839.8 527.3,840.7 527.8,840.9 528.2,841.0 528.7,840.1 529.1,839.6 529.6,840.2 530.0,839.5 530.5,838.5 530.9,838.4 531.4,840.5 531.8,841.4 532.3,840.3 532.7,839.7 533.2,839.9 533.6,839.4 534.1,840.4 534.5,840.1 535.0,839.4 535.4,840.4 535.9,839.9 536.3,840.0 536.8,840.0 537.2,839.8 537.7,840.1 538.1,839.7 538.6,838.7 539.0,838.0 539.5,838.1 539.9,838.5 540.4,839.1 540.8,839.6 541.3,840.2 541.7,840.3 542.2,839.8 542.6,839.6 543.1,838.6 543.5,839.2 544.0,840.0 544.4,840.4 544.9,840.4 545.3,840.3 545.8,840.9 546.2,840.7 546.7,841.1 547.1,841.1 547.6,840.9 548.0,841.5 548.5,840.6 548.9,840.2 549.4,839.7 549.8,839.4 550.3,840.6 550.7,841.4 551.2,840.8 551.6,840.8 552.1,841.1 552.5,841.1 553.0,841.3 553.4,839.9 553.9,839.4 554.3,839.8 554.8,840.6 555.2,840.2 555.7,839.4 556.1,839.2 556.6,838.9 557.0,838.6 557.5,839.8 557.9,839.2 558.4,839.2 558.8,840.5 559.3,840.7 559.7,840.2 560.2,839.4 560.6,839.5 561.1,840.3 561.5,840.1 562.0,840.4 562.4,839.9 562.9,839.8 563.3,839.3 563.8,839.3 564.2,839.9 564.7,838.6 565.1,838.6 565.6,838.8 566.0,838.4 566.5,838.3 566.9,838.9 567.4,839.9 567.8,839.7 568.3,839.4 568.7,838.1 569.2,839.4 569.6,839.0 570.1,838.7 570.5,837.9 571.0,838.0 571.4,837.4 571.9,837.8 572.3,838.2 572.8,838.2 573.2,838.3 573.7,837.7 574.1,838.6 574.6,837.9 575.0,836.7 575.5,837.0 575.9,836.7 576.4,836.4 576.8,836.6 577.3,837.1 577.7,836.4 578.2,836.6 578.6,837.7 579.1,837.8 579.5,837.4 580.0,837.2 580.4,837.0 580.9,836.8 581.3,837.2 581.8,836.9 582.2,835.2 582.7,835.7 583.1,835.4 583.6,836.1 584.0,835.7 584.5,836.0 584.9,837.3 585.4,836.1 585.8,835.3 586.3,834.6 586.7,833.7 587.2,833.4 587.6,834.6 588.1,834.8 588.5,834.1 589.0,834.0 589.4,835.2 589.9,835.0 590.3,835.2 590.8,835.8 591.2,836.7 591.7,837.6 592.1,837.7 592.6,837.2 593.0,836.9 593.5,837.7 593.9,838.0 594.4,837.1 594.8,837.0 595.3,836.9 595.7,836.7 596.2,836.3 596.6,835.5 597.1,835.5 597.5,835.0 598.0,836.3 598.4,836.7 598.9,835.9 599.3,837.0 599.8,837.3 600.2,835.9 600.7,837.3 601.1,837.5 601.6,838.4 602.0,836.9 602.5,837.2 602.9,837.2 603.4,837.1 603.8,837.1 604.3,837.6 604.7,836.4 605.2,835.8 605.6,835.4 606.1,835.6 606.5,835.8 607.0,836.4 607.4,836.8 607.9,836.9 608.3,836.5 608.8,836.4 609.2,837.2 609.7,837.6 610.1,837.4 610.6,837.1 611.0,838.0 611.5,837.3 611.9,837.6 612.4,838.1 612.8,837.6 613.3,838.0 613.7,837.1 614.2,837.8 614.6,837.8 615.1,836.8 615.5,837.5 616.0,837.1 616.4,838.1 616.9,837.6 617.3,837.6 617.8,837.9 618.2,837.8 618.7,838.1 619.1,837.8 619.6,838.4 620.0,838.4 620.5,838.5 620.9,836.8 621.4,838.2 621.8,838.4 622.3,837.4 622.7,838.0 623.2,838.6 623.6,839.3 624.1,838.5 624.5,839.6 625.0,839.3 625.4,840.7 625.9,840.0 626.3,840.1 626.8,839.4 627.2,838.6 627.7,839.4 628.1,839.8 628.6,840.3 629.0,840.3 629.5,839.4 629.9,838.1 630.4,838.0 630.8,837.9 631.3,837.7 631.7,838.5 632.2,838.7 632.6,838.5 633.1,838.6 633.5,838.5 634.0,838.6 634.4,839.0 634.9,839.4 635.3,838.6 635.8,837.6 636.2,838.7 636.7,838.6 637.1,839.1 637.6,837.8 638.0,837.8 638.5,837.9 638.9,837.1 639.4,837.2 639.8,838.7 640.3,839.7 640.7,840.3 641.2,839.2 641.6,838.2 642.1,838.7 642.5,839.3 643.0,839.1 643.4,838.1 643.9,838.7 644.3,839.1 644.8,839.1 645.2,838.5 645.7,838.5 646.1,838.8 646.6,838.2 647.0,837.0 647.5,837.6 647.9,838.0 648.4,837.9 648.8,838.4 649.3,837.7 649.7,837.6 650.2,837.4 650.6,837.8 651.1,838.6 651.5,837.9 652.0,838.9 652.4,839.1 652.9,838.8 653.3,838.4 653.8,838.8 654.2,837.9 654.7,837.2 655.1,836.3 655.6,836.5 656.0,837.2 656.5,837.0 656.9,836.8 657.4,836.2 657.8,836.1 658.3,835.0 658.7,835.7 659.2,835.3 659.6,834.5 660.1,834.2 660.5,833.9 661.0,834.7 661.4,835.3 661.9,834.1 662.3,834.7 662.8,835.0 663.2,834.2 663.7,833.2 664.1,832.9 664.6,832.8 665.0,833.2 665.5,833.0 665.9,831.9 666.4,832.5 666.8,832.0 667.3,833.2 667.7,832.8 668.2,832.9 668.6,833.0 669.1,833.2 669.5,834.6 670.0,835.2 670.4,835.5 670.9,835.6 671.3,834.6 671.8,834.7 672.2,834.8 672.7,834.6 673.1,835.5 673.6,835.1 674.0,834.9 674.5,834.6 674.9,833.7 675.4,834.8 675.8,835.8 676.3,835.7 676.7,835.0 677.2,833.5 677.6,834.3 678.1,835.4 678.5,835.4 679.0,835.8 679.4,836.4 679.9,836.5 680.3,835.6 680.8,835.9 681.2,835.9 681.7,834.5 682.1,834.3 682.6,833.6 683.0,833.9 683.5,834.5 683.9,833.8 684.4,832.8 684.8,834.2 685.3,834.5 685.7,835.3 686.2,834.0 686.6,834.7 687.1,835.7 687.5,836.2 688.0,835.2 688.4,834.8 688.9,834.4 689.3,834.7 689.8,835.0 690.2,834.9 690.7,834.0 691.1,834.8 691.6,834.7 692.0,835.3 692.5,835.6 692.9,836.6 693.4,837.1 693.8,836.5 694.3,836.7 694.7,837.8 695.2,837.1 695.6,837.4 696.1,838.1 696.5,838.5 697.0,838.2 697.4,836.9 697.9,836.1 698.3,836.5 698.8,836.8 699.2,838.3 699.7,837.1 700.1,837.6 700.6,837.6 701.0,836.1 701.5,835.7 701.9,836.1 702.4,835.8 702.8,835.9 703.3,836.3 703.7,835.7 704.2,836.1 704.6,835.7 705.1,835.4 705.5,835.9 706.0,835.5 706.4,835.8 706.9,836.7 707.3,836.2 707.8,835.9 708.2,836.1 708.7,835.6 709.1,836.1 709.6,835.0 710.0,835.4 710.5,835.0 710.9,834.5 711.4,835.8 711.8,834.9 712.3,835.9 712.7,835.8 713.2,836.3 713.6,835.0 714.1,835.5 714.5,836.0 715.0,835.3 715.4,834.8 715.9,836.1 716.3,835.4 716.8,834.7 717.2,834.1 717.7,834.3 718.1,834.4 718.6,834.3 719.0,835.1 719.5,834.4 719.9,834.5 720.4,835.1 720.8,834.1 721.3,834.7 721.7,835.5 722.2,834.1 722.6,833.5 723.1,833.1 723.5,832.4 724.0,833.4 724.4,832.7 724.9,833.6 725.3,834.8 725.8,833.6 726.2,833.8 726.7,832.9 727.1,834.0 727.6,833.7 728.0,833.9 728.5,834.2 728.9,834.7 729.4,834.5 729.8,834.6 730.3,834.3 730.7,834.5 731.2,833.9 731.6,834.3 732.1,833.4 732.5,833.7 733.0,835.2 733.4,835.0 733.9,834.1 734.3,834.4 734.8,833.8 735.2,833.0 735.7,833.1 736.1,833.9 736.6,834.2 737.0,834.1 737.5,833.5 737.9,833.0 738.4,834.1 738.8,834.1 739.3,833.3 739.7,832.2 740.2,831.9 740.6,834.0 741.1,833.0 741.5,833.1 742.0,833.2 742.4,833.1 742.9,833.0 743.3,832.3 743.8,832.1 744.2,833.7 744.7,833.2 745.1,833.8 745.6,832.7 746.0,832.9 746.5,833.4 746.9,834.2 747.4,833.4 747.8,834.0 748.3,834.2 748.7,833.7 749.2,834.1 749.6,833.6 750.1,833.4 750.5,833.7 751.0,832.3 751.4,833.1 751.9,833.0 752.3,832.7 752.8,833.2 753.2,834.2 753.7,834.1 754.1,835.1 754.6,834.3 755.0,833.7 755.5,835.1 755.9,835.3 756.4,835.7 756.8,834.9 757.3,835.5 757.7,835.5 758.2,835.7 758.6,835.5 759.1,836.1 759.5,835.4 760.0,834.8 760.4,834.1 760.9,835.3 761.3,834.9 761.8,834.5 762.2,834.4 762.7,834.6 763.1,834.2 763.6,834.6 764.0,834.7 764.5,834.8 764.9,834.6 765.4,835.1 765.8,835.2 766.3,835.5 766.7,835.9 767.2,836.1 767.6,834.8 768.1,835.0 768.5,835.0 769.0,835.9 769.4,835.1 769.9,835.2 770.3,835.5 770.8,835.6 771.2,836.5 771.7,836.3 772.1,836.9 772.6,835.9 773.0,834.9 773.5,836.1 773.9,836.4 774.4,836.5 774.8,836.3 775.3,836.4 775.7,835.4 776.2,836.0 776.6,835.5 777.1,836.1 777.5,835.8 778.0,834.4 778.4,833.9 778.9,835.1 779.3,834.9 779.8,834.7 780.2,834.9 780.7,834.6 781.1,834.3 781.6,834.4 782.0,834.5 782.5,835.4 782.9,834.9 783.4,835.8 783.8,836.2 784.3,836.3 784.7,836.0 785.2,835.2 785.6,834.7 786.1,834.3 786.5,833.7 787.0,833.8 787.4,833.5 787.9,834.8 788.3,834.8 788.8,834.3 789.2,833.2 789.7,833.6 790.1,833.6 790.6,833.3 791.0,833.1 791.5,832.3 791.9,833.5 792.4,833.9 792.8,835.7 793.3,835.3 793.7,835.0 794.2,835.8 794.6,835.5 795.1,835.3 795.5,834.9 796.0,834.6 796.4,835.6 796.9,836.0 797.3,836.7 797.8,835.8 798.2,835.6 798.7,834.9 799.1,835.7 799.6,834.8 800.0,835.5 800.5,836.3 800.9,837.0 801.4,836.1 801.8,836.8 802.3,836.2 802.7,835.9 803.2,835.4 803.6,836.6 804.1,837.7 804.5,837.1 805.0,836.7 805.4,836.7 805.9,838.5 806.3,838.8 806.8,838.0 807.2,836.9 807.7,836.9 808.1,838.1 808.6,839.3 809.0,838.8 809.5,838.3 809.9,838.1 810.4,837.3 810.8,838.5 811.3,838.1 811.7,839.2 812.2,838.2 812.6,837.9 813.1,838.6 813.5,838.4 814.0,839.3 814.4,839.4 814.9,838.7 815.3,839.4 815.8,840.0 816.2,838.7 816.7,840.2 817.1,840.3 817.6,840.5 818.0,839.1 818.5,839.0 818.9,839.1 819.4,840.1 819.8,839.2 820.3,839.0 820.7,838.2 821.2,838.8 821.6,839.6 822.1,838.8 822.5,839.0 823.0,839.8 823.4,841.0 823.9,841.1 824.3,840.7 824.8,839.9 825.2,839.6 825.7,839.5 826.1,840.0 826.6,840.2 827.0,841.3 827.5,841.1 827.9,840.2 828.4,841.2 828.8,841.5 829.3,841.1 829.7,840.4 830.2,839.3 830.6,839.2 831.1,840.2 831.5,839.8 832.0,839.3 832.4,839.9 832.9,840.3 833.3,840.7 833.8,841.0 834.2,841.6 834.7,840.7 835.1,841.2 835.6,840.3 836.0,840.8 836.5,840.8 836.9,840.8 837.4,841.2 837.8,840.9 838.3,841.4 838.7,841.6 839.2,841.2 839.6,840.7 840.1,840.2 840.5,840.1 841.0,840.2 841.4,840.5 841.9,842.4 842.3,842.2 842.8,842.1 843.2,841.2 843.7,840.7 844.1,840.7 844.6,841.0 845.0,840.4 845.5,841.7 845.9,841.2 846.4,841.9 846.8,840.3 847.3,840.7 847.7,841.2 848.2,841.4 848.6,841.8 849.1,841.9 849.5,841.9 850.0,840.7 850.4,840.6 850.9,839.7 851.3,840.9 851.8,841.5 852.2,841.5 852.7,841.2 853.1,841.1 853.6,842.5 854.0,843.3 854.5,842.7 854.9,843.2 855.4,841.8 855.8,840.7 856.3,841.0 856.7,840.9 857.2,841.0 857.6,841.6 858.1,843.6 858.5,842.6 859.0,842.5 859.4,842.5 859.9,842.4 860.3,842.9 860.8,843.7 861.2,842.4 861.7,842.5 862.1,842.2 862.6,842.5 863.0,841.5 863.5,840.8 863.9,840.1 864.4,841.3 864.8,841.9 865.3,842.2 865.7,840.8 866.2,841.2 866.6,841.1 867.1,840.7 867.5,840.7 868.0,841.7 868.4,842.2 868.9,842.1 869.3,842.4 869.8,841.8 870.2,841.9 870.7,841.9 871.1,842.2 871.6,842.0 872.0,841.8 872.5,841.6 872.9,841.2 873.4,842.7 873.8,842.5 874.3,842.4 874.7,843.4 875.2,843.4 875.6,841.6 876.1,841.9 876.5,842.2 877.0,842.9 877.4,843.0 877.9,842.7 878.3,841.3 878.8,840.8 879.2,841.1 879.7,841.5 880.1,840.8 880.6,840.8 881.0,840.8 881.5,841.1 881.9,841.4 882.4,841.3 882.8,840.6 883.3,841.7 883.7,842.6 884.2,842.2 884.6,842.6 885.1,842.5 885.5,842.6 886.0,842.5 886.4,841.8 886.9,842.1 887.3,842.6 887.8,841.8 888.2,843.0 888.7,843.8 889.1,844.2 889.6,844.5 890.0,844.0 890.5,843.0 890.9,842.3 891.4,841.7 891.8,841.9 892.3,841.9 892.7,842.2 893.2,840.8 893.6,842.5 894.1,843.4 894.5,842.6 895.0,842.4 895.4,842.2 895.9,841.9 896.3,841.4 896.8,841.1 897.2,840.4 897.7,840.6 898.1,840.6 898.6,840.7 899.0,840.0 899.5,840.1 899.9,840.1 900.4,840.4 900.8,839.6 901.3,839.9 901.7,840.4 902.2,840.5 902.6,839.8 903.1,839.4 903.5,839.2 904.0,839.6 904.4,840.3 904.9,839.7 905.3,839.0 905.8,839.2 906.2,839.2 906.7,838.5 907.1,838.1 907.6,838.3 908.0,838.8 908.5,838.0 908.9,837.5 909.4,838.2 909.8,837.5 910.3,837.8 910.7,838.2 911.2,838.1 911.6,837.4 912.1,837.6 912.5,837.5 913.0,837.8 913.4,837.3 913.9,838.1 914.3,836.9 914.8,837.1 915.2,837.2 915.7,837.9 916.1,837.3 916.6,837.6 917.0,837.1 917.5,837.6 917.9,838.4 918.4,837.6 918.8,837.6 919.3,836.8 919.7,837.4 920.2,837.9 920.6,837.5 921.1,836.5 921.5,836.9 922.0,837.5 922.4,837.8 922.9,837.8 923.3,836.2 923.8,835.9 924.2,837.0 924.7,836.0 925.1,836.9 925.6,837.8 926.0,837.6 926.5,837.8 926.9,836.9 927.4,835.9 927.8,835.9 928.3,835.9 928.7,835.9 929.2,836.3 929.6,836.1 930.1,836.1 930.5,836.3 931.0,836.1 931.4,837.1 931.9,836.8 932.3,836.3 932.8,835.9 933.2,835.3 933.7,836.2 934.1,835.9 934.6,835.0 935.0,834.7 935.5,834.8 935.9,834.6 936.4,835.4 936.8,834.5 937.3,834.9 937.7,835.0 938.2,834.2 938.6,834.4 939.1,834.4 939.5,834.7 940.0,834.3 940.4,834.5 940.9,833.4 941.3,833.1 941.8,834.0 942.2,834.7 942.7,834.4 943.1,833.9 943.6,834.5 944.0,833.0 944.5,832.8 944.9,833.6 945.4,834.1 945.8,833.5 946.3,832.5 946.7,834.0 947.2,834.1 947.6,833.6 948.1,833.8 948.5,834.5 949.0,832.8 949.4,834.0 949.9,834.6 950.3,833.2 950.8,834.1 951.2,833.1 951.7,834.3 952.1,834.6 952.6,835.9 953.0,834.9 953.5,834.8 953.9,835.3 954.4,834.6 954.8,834.0 955.3,833.7 955.7,833.7 956.2,832.9 956.6,833.3 957.1,833.5 957.5,833.3 958.0,834.0 958.4,833.2 958.9,833.6 959.3,832.6 959.8,832.7 960.2,831.1 960.7,831.3 961.1,831.1 961.6,830.7 962.0,830.4 962.5,830.2 962.9,829.8 963.4,828.6 963.8,828.7 964.3,828.8 964.7,828.7 965.2,828.3 965.6,828.6 966.1,829.2 966.5,828.9 967.0,828.5 967.4,829.3 967.9,829.4 968.3,829.4 968.8,829.5 969.2,828.6 969.7,828.1 970.1,828.5 970.6,827.6 971.0,827.3 971.5,827.3 971.9,827.3 972.4,826.8 972.8,827.2 973.3,826.6 973.7,826.8 974.2,827.0 974.6,827.0 975.1,827.1 975.5,826.2 976.0,825.6 976.4,825.7 976.9,826.5 977.3,827.6 977.8,826.7 978.2,827.2 978.7,826.8 979.1,826.7 979.6,827.0 980.0,827.8 980.5,828.1 980.9,828.9 981.4,828.1 981.8,828.8 982.3,829.3 982.7,829.2 983.2,829.4 983.6,829.0 984.1,828.5 984.5,828.6 985.0,828.5 985.4,830.5 985.9,829.8 986.3,830.6 986.8,830.2 987.2,830.1 987.7,830.2 988.1,829.5 988.6,830.0 989.0,830.0 989.5,828.9 989.9,829.5 990.4,829.9 990.8,830.0 991.3,830.8 991.7,830.1 992.2,830.2 992.6,830.4 993.1,829.6 993.5,830.4 994.0,829.2 994.4,828.7 994.9,829.4 995.3,828.9 995.8,829.2 996.2,828.5 996.7,829.1 997.1,828.7 997.6,829.4 998.0,828.5 998.5,829.1 998.9,828.9 999.4,829.0 999.8,828.9 1000.3,828.8 1000.7,827.9 1001.2,826.5 1001.6,827.2 1002.1,826.9 1002.5,827.0 1003.0,827.5 1003.4,826.3 1003.9,826.2 1004.3,826.2 1004.8,825.9 1005.2,826.4 1005.7,826.4 1006.1,825.9 1006.6,825.5 1007.0,826.2 1007.5,825.7 1007.9,826.1 1008.4,826.1 1008.8,824.7 1009.3,824.3 1009.7,824.6 1010.2,824.9 1010.6,825.3 1011.1,825.6 1011.5,826.0 1012.0,825.4 1012.4,825.2 1012.9,825.7 1013.3,825.3 1013.8,825.9 1014.2,824.8 1014.7,825.4 1015.1,825.4 1015.6,824.3 1016.0,825.4 1016.5,825.7 1016.9,825.7 1017.4,825.1 1017.8,825.1 1018.3,826.4 1018.7,825.7 1019.2,823.7 1019.6,824.2 1020.1,824.2 1020.5,824.9 1021.0,825.2 1021.4,825.1 1021.9,825.1 1022.3,826.3 1022.8,825.5 1023.2,827.1 1023.7,826.6 1024.1,825.9 1024.6,826.8 1025.0,827.2 1025.5,826.6 1025.9,827.3 1026.4,826.3 1026.8,826.2 1027.3,827.5 1027.7,827.5 1028.2,826.9 1028.6,827.7 1029.1,828.5 1029.5,828.4 1030.0,827.4 1030.4,827.7 1030.9,828.4 1031.3,829.1 1031.8,830.2 1032.2,829.6 1032.7,829.2 1033.1,829.3 1033.6,830.1 1034.0,829.4 1034.5,830.4 1034.9,828.6 1035.4,829.7 1035.8,829.5 1036.3,830.2 1036.7,830.7 1037.2,830.0 1037.6,830.2 1038.1,830.5 1038.5,831.0 1039.0,830.3 1039.4,829.9 1039.9,829.1 1040.3,831.4 1040.8,831.1 1041.2,830.9 1041.7,830.1 1042.1,831.0 1042.6,830.7 1043.0,831.8 1043.5,832.1 1043.9,831.8 1044.4,832.0 1044.8,831.1 1045.3,831.0 1045.7,830.8 1046.2,830.3 1046.6,830.8 1047.1,831.0 1047.5,832.1 1048.0,829.9 1048.4,830.2 1048.9,830.3 1049.3,830.6 1049.8,831.4 1050.2,831.8 1050.7,831.9 1051.1,831.6 1051.6,832.0 1052.0,832.1 1052.5,830.9 1052.9,831.1 1053.4,830.5 1053.8,830.3 1054.3,831.0 1054.7,831.3 1055.2,831.5 1055.6,831.1 1056.1,831.2 1056.5,830.9 1057.0,831.4 1057.4,831.9 1057.9,832.9 1058.3,833.1 1058.8,832.1 1059.2,831.6 1059.7,831.0 1060.1,831.4 1060.6,832.7 1061.0,832.7 1061.5,830.9 1061.9,830.4 1062.4,830.1 1062.8,831.0 1063.3,831.2 1063.7,831.5 1064.2,832.3 1064.6,831.1 1065.1,830.2 1065.5,831.2 1066.0,830.7 1066.4,829.6 1066.9,828.0 1067.3,827.3 1067.8,826.1 1068.2,826.8 1068.7,827.1 1069.1,827.6 1069.6,827.2 1070.0,826.4 1070.5,825.9 1070.9,827.3 1071.4,826.0 1071.8,826.4 1072.3,826.5 1072.7,827.0 1073.2,826.6 1073.6,827.0 1074.1,827.4 1074.5,827.1 1075.0,826.7 1075.4,826.6 1075.9,826.1 1076.3,826.3 1076.8,826.4 1077.2,826.7 1077.7,827.6 1078.1,828.1 1078.6,827.4 1079.0,827.6 1079.5,827.6 1079.9,827.8 1080.4,827.5 1080.8,827.5 1081.3,827.1 1081.7,826.6 1082.2,827.4 1082.6,828.1 1083.1,828.1 1083.5,828.0 1084.0,827.8 1084.4,827.2 1084.9,825.9 1085.3,826.6 1085.8,826.7 1086.2,826.3 1086.7,825.7 1087.1,826.7 1087.6,825.3 1088.0,826.7 1088.5,826.7 1088.9,827.7 1089.4,826.5 1089.8,826.1 1090.3,825.5 1090.7,825.5 1091.2,825.3 1091.6,824.7 1092.1,825.5 1092.5,824.7 1093.0,824.4 1093.4,824.8 1093.9,824.4 1094.3,824.1 1094.8,824.4 1095.2,824.1 1095.7,823.3 1096.1,823.5 1096.6,823.5 1097.0,824.6 1097.5,823.7 1097.9,824.4 1098.4,823.7 1098.8,823.6 1099.3,823.5 1099.7,823.8 1100.2,824.4 1100.6,825.2 1101.1,824.3 1101.5,825.0 1102.0,825.1 1102.4,825.1 1102.9,824.2 1103.3,824.6 1103.8,824.3 1104.2,824.3 1104.7,824.0 1105.1,824.4 1105.6,824.8 1106.0,825.2 1106.5,824.5 1106.9,824.9 1107.4,825.4 1107.8,824.2 1108.3,825.0 1108.7,823.7 1109.2,824.1 1109.6,824.4 1110.1,825.1 1110.5,824.8 1111.0,824.1 1111.4,823.4 1111.9,822.8 1112.3,823.6 1112.8,823.4 1113.2,823.0 1113.7,823.5 1114.1,823.0 1114.6,822.9 1115.0,822.8 1115.5,824.0 1115.9,824.6 1116.4,823.9 1116.8,822.7 1117.3,823.0 1117.7,823.1 1118.2,823.3 1118.6,823.5 1119.1,823.1 1119.5,823.6 1120.0,823.8 1120.4,823.5 1120.9,823.0 1121.3,822.6 1121.8,823.0 1122.2,822.2 1122.7,822.3 1123.1,821.9 1123.6,821.3 1124.0,822.2 1124.5,822.3 1124.9,822.4 1125.4,822.9 1125.8,821.8 1126.3,822.0 1126.7,822.3 1127.2,822.8 1127.6,822.0 1128.1,822.6 1128.5,822.6 1129.0,823.3 1129.4,823.5 1129.9,823.3 1130.3,824.2 1130.8,823.4 1131.2,822.6 1131.7,822.2 1132.1,821.6 1132.6,821.8 1133.0,820.8 1133.5,821.2 1133.9,821.8 1134.4,822.5 1134.8,822.1 1135.3,822.9 1135.7,822.1 1136.2,821.9 1136.6,820.8 1137.1,820.8 1137.5,820.9 1138.0,822.3 1138.4,822.6 1138.9,821.9 1139.3,822.4 1139.8,822.7 1140.2,822.5 1140.7,822.6 1141.1,822.4 1141.6,822.2 1142.0,821.4 1142.5,822.0 1142.9,823.1 1143.4,823.9 1143.8,823.4 1144.3,822.9 1144.7,822.9 1145.2,823.6 1145.6,823.7 1146.1,823.3 1146.5,823.6 1147.0,823.4 1147.4,823.8 1147.9,823.5 1148.3,822.8 1148.8,823.2 1149.2,823.9 1149.7,823.3 1150.1,823.5 1150.6,824.2 1151.0,823.9 1151.5,823.5 1151.9,824.8 1152.4,825.0 1152.8,825.1 1153.3,824.1 1153.7,825.0 1154.2,823.6 1154.6,823.4 1155.1,824.0 1155.5,824.8 1156.0,823.9 1156.4,823.5 1156.9,823.8 1157.3,822.7 1157.8,823.6 1158.2,824.0 1158.7,823.7 1159.1,824.1 1159.6,824.5 1160.0,824.4 1160.5,824.5 1160.9,825.2 1161.4,824.4 1161.8,824.3 1162.3,823.8 1162.7,824.5 1163.2,824.0 1163.6,824.5 1164.1,824.8 1164.5,825.0 1165.0,826.2 1165.4,826.0 1165.9,826.9 1166.3,827.2 1166.8,827.7 1167.2,827.3 1167.7,827.9 1168.1,828.2 1168.6,827.7 1169.0,828.0 1169.5,828.1 1169.9,828.5 1170.4,829.9 1170.8,829.8 1171.3,829.5 1171.7,829.5 1172.2,830.6 1172.6,831.4 1173.1,832.5 1173.5,833.8 1174.0,835.5 1174.4,835.9 1174.9,836.6 1175.3,836.5 1175.8,837.5 1176.2,838.9 1176.7,839.6 1177.1,838.1 1177.6,838.9 1178.0,839.8 1178.5,840.0 1178.9,838.8 1179.4,838.8 1179.8,839.4 1180.3,839.7 1180.7,839.3 1181.2,839.0 1181.6,840.0 1182.1,839.3 1182.5,840.6 1183.0,840.5 1183.4,840.8 1183.9,840.0 1184.3,840.0 1184.8,840.9 1185.2,840.2 1185.7,841.8 1186.1,840.9 1186.6,840.5 1187.0,841.1 1187.5,841.7 1187.9,842.3 1188.4,842.1 1188.8,842.1 1189.3,842.1 1189.7,842.0 1190.2,840.5 1190.6,841.5 1191.1,841.7 1191.5,841.6 1192.0,841.1 1192.4,841.2 1192.9,841.0 1193.3,840.8 1193.8,841.3 1194.2,839.8 1194.7,840.0 1195.1,839.3 1195.6,839.2 1196.0,840.2 1196.5,839.2 1196.9,839.0 1197.4,838.6 1197.8,839.2 1198.3,838.3 1198.7,837.3 1199.2,837.9 1199.6,837.7 1200.1,837.4 1200.5,837.9 1201.0,836.9 1201.4,836.6 1201.9,836.5 1202.3,836.5 1202.8,835.9 1203.2,836.3 1203.7,837.1 1204.1,835.9 1204.6,836.4 1205.0,834.3 1205.5,834.9 1205.9,834.2 1206.4,834.1 1206.8,834.0 1207.3,833.8 1207.7,833.4 1208.2,833.7 1208.6,834.9 1209.1,835.6 1209.5,835.3 1210.0,835.0 1210.4,834.8 1210.9,834.5 1211.3,836.1 1211.8,836.4 1212.2,836.3 1212.7,835.8 1213.1,835.2 1213.6,836.2 1214.0,836.5 1214.5,835.7 1214.9,836.3 1215.4,835.5 1215.8,836.0 1216.3,835.3 1216.7,835.1 1217.2,835.5 1217.6,835.6 1218.1,835.9 1218.5,835.0 1219.0,835.7 1219.4,836.0 1219.9,835.3 1220.3,835.1 1220.8,834.2 1221.2,834.0 1221.7,833.1 1222.1,833.7 1222.6,834.6 1223.0,836.1 1223.5,837.0 1223.9,837.8 1224.4,837.8 1224.8,838.1 1225.3,838.5 1225.7,839.3 1226.2,838.7 1226.6,839.5 1227.1,838.7 1227.5,838.7 1228.0,839.0 1228.4,838.9 1228.9,840.1 1229.3,839.7 1229.8,840.5 1230.2,840.7 1230.7,839.8 1231.1,839.8 1231.6,840.2 1232.0,839.6 1232.5,839.6 1232.9,839.2 1233.4,839.3 1233.8,839.2 1234.3,839.4 1234.7,840.1 1235.2,840.8 1235.6,840.5 1236.1,840.3 1236.5,840.7 1237.0,840.2 1237.4,839.6 1237.9,840.4 1238.3,839.8 1238.8,840.5 1239.2,839.9 1239.7,841.2 1240.1,840.3 1240.6,840.9 1241.0,841.6 1241.5,840.7 1241.9,841.6 1242.4,840.8 1242.8,839.8 1243.3,840.7 1243.7,841.2 1244.2,841.1 1244.6,839.6 1245.1,840.2 1245.5,840.3 1246.0,840.2 1246.4,840.1 1246.9,839.1 1247.3,839.2 1247.8,840.5 1248.2,841.1 1248.7,840.3 1249.1,839.6 1249.6,839.7 1250.0,840.1 1250.5,840.1 1250.9,838.9 1251.4,838.9 1251.8,838.8 1252.3,839.5 1252.7,839.7 1253.2,839.3 1253.6,839.5 1254.1,838.5 1254.5,839.1 1255.0,838.2 1255.4,838.0 1255.9,838.2 1256.3,837.2 1256.8,836.6 1257.2,835.6 1257.7,836.1 1258.1,836.1 1258.6,836.0 1259.0,836.4 1259.5,835.2 1259.9,835.6 1260.4,835.9 1260.8,835.9 1261.3,836.4 1261.7,837.3 1262.2,836.5 1262.6,835.8 1263.1,835.5 1263.5,835.7 1264.0,836.1 1264.4,835.5 1264.9,836.2 1265.3,835.4 1265.8,836.0 1266.2,836.1 1266.7,836.2 1267.1,837.2 1267.6,836.3 1268.0,835.9 1268.5,836.0 1268.9,836.2 1269.4,835.1 1269.8,835.3 1270.3,834.9 1270.7,835.4 1271.2,836.1 1271.6,835.7 1272.1,835.4 1272.5,835.4 1273.0,833.6 1273.4,834.6 1273.9,835.1 1274.3,835.1 1274.8,834.8 1275.2,834.5 1275.7,834.5 1276.1,835.4 1276.6,835.1 1277.0,835.8 1277.5,833.9 1277.9,834.0 1278.4,834.5 1278.8,834.6 1279.3,833.7 1279.7,833.7 1280.2,834.8 1280.6,834.0 1281.1,833.7 1281.5,833.4 1282.0,833.6 1282.4,834.4 1282.9,834.8 1283.3,833.5 1283.8,834.8 1284.2,834.3 1284.7,834.0 1285.1,835.2 1285.6,834.9 1286.0,834.1 1286.5,834.0 1286.9,833.9 1287.4,833.7 1287.8,834.0 1288.3,834.9 1288.7,835.1 1289.2,834.3 1289.6,836.2 1290.1,835.2 1290.5,835.2 1291.0,835.2 1291.4,835.7 1291.9,835.3 1292.3,835.6 1292.8,836.7 1293.2,836.2 1293.7,835.3 1294.1,835.6 1294.6,835.1 1295.0,835.1 1295.5,835.4 1295.9,835.7 1296.4,835.6 1296.8,836.1 1297.3,835.9 1297.7,835.1 1298.2,835.9 1298.6,835.7 1299.1,836.5 1299.5,836.0 1300.0,836.3 1300.4,836.4 1300.9,834.8 1301.3,834.5 1301.8,834.6 1302.2,836.1 1302.7,835.1 1303.1,836.1 1303.6,836.9 1304.0,837.0 1304.5,837.2 1304.9,836.7 1305.4,836.6 1305.8,836.8 1306.3,837.0 1306.7,837.3 1307.2,837.0 1307.6,836.5 1308.1,836.4 1308.5,836.8 1309.0,835.9 1309.4,835.6 1309.9,836.0 1310.3,836.1 1310.8,836.4 1311.2,835.2 1311.7,835.7 1312.1,836.1 1312.6,836.9 1313.0,835.8 1313.5,836.1 1313.9,836.7 1314.4,837.0 1314.8,837.6 1315.3,837.9 1315.7,836.8 1316.2,837.2 1316.6,836.8 1317.1,836.3 1317.5,837.3 1318.0,836.6 1318.4,836.1 1318.9,836.0 1319.3,835.7 1319.8,836.6 1320.2,836.7 1320.7,837.4 1321.1,837.2 1321.6,836.5 1322.0,837.0 1322.5,836.3 1322.9,836.0 1323.4,835.9 1323.8,836.0 1324.3,836.7 1324.7,836.1 1325.2,836.3 1325.6,836.1 1326.1,835.3 1326.5,834.9 1327.0,835.2 1327.4,835.7 1327.9,835.9 1328.3,836.2 1328.8,836.2 1329.2,835.9 1329.7,836.3 1330.1,835.7 1330.6,835.2 1331.0,835.5 1331.5,835.1 1331.9,835.4 1332.4,835.5 1332.8,835.6 1333.3,836.1 1333.7,835.9 1334.2,836.1 1334.6,835.5 1335.1,836.2 1335.5,836.1 1336.0,836.8 1336.4,835.3 1336.9,835.7 1337.3,836.5 1337.8,835.5 1338.2,836.1 1338.7,836.8 1339.1,837.2 1339.6,836.6 1340.0,837.2 1340.5,837.6 1340.9,837.2 1341.4,838.0 1341.8,838.0 1342.3,838.1 1342.7,837.9 1343.2,838.4 1343.6,838.5 1344.1,839.2 1344.5,839.2 1345.0,838.6 1345.4,838.5 1345.9,839.1 1346.3,838.7 1346.8,839.0 1347.2,839.2 1347.7,839.0 1348.1,837.6 1348.6,838.2 1349.0,838.7 1349.5,838.9 1349.9,838.5 1350.4,839.5 1350.8,839.3 1351.3,838.9 1351.7,838.6 1352.2,839.1 1352.6,838.6 1353.1,838.3 1353.5,839.9 1354.0,840.5 1354.4,840.7 1354.9,841.1 1355.3,840.8 1355.8,839.4 1356.2,840.2 1356.7,840.8 1357.1,840.7 1357.6,839.2 1358.0,840.2 1358.5,840.8 1358.9,840.1 1359.4,840.0 1359.8,840.3 1360.3,840.0 1360.7,840.5 1361.2,840.2 1361.6,840.3 1362.1,840.1 1362.5,839.0 1363.0,838.6 1363.4,840.8 1363.9,840.4 1364.3,840.8 1364.8,840.9 1365.2,841.3 1365.7,840.8 1366.1,839.9 1366.6,839.7 1367.0,838.4 1367.5,838.6 1367.9,839.4 1368.4,838.1 1368.8,838.7 1369.3,839.3 1369.7,840.0 1370.2,839.1 1370.6,838.8 1371.1,837.8 1371.5,837.6 1372.0,838.4 1372.4,839.7 1372.9,838.6 1373.3,839.4 1373.8,839.3 1374.2,838.6 1374.7,839.7 1375.1,837.6 1375.6,837.8 1376.0,838.0 1376.5,839.2 1376.9,839.7 1377.4,840.2 1377.8,839.3 1378.3,839.1 1378.7,839.3 1379.2,838.8 1379.6,838.4 1380.1,837.8 1380.5,837.3 1381.0,836.4 1381.4,837.8 1381.9,837.1 1382.3,835.8 1382.8,836.3 1383.2,836.4 1383.7,836.5 1384.1,837.5 1384.6,837.0 1385.0,836.5 1385.5,836.0 1385.9,836.0 1386.4,835.8 1386.8,836.0 1387.3,837.8 1387.7,837.2 1388.2,836.2 1388.6,837.1 1389.1,837.0 1389.5,836.9 1390.0,836.8 1390.4,836.7 1390.9,836.6 1391.3,836.9 1391.8,836.8 1392.2,837.0 1392.7,835.9 1393.1,835.6 1393.6,834.9 1394.0,835.5 1394.5,835.7 1394.9,835.1 1395.4,835.3 1395.8,836.5 1396.3,836.5 1396.7,835.0 1397.2,834.7 1397.6,835.0 1398.1,834.7 1398.5,834.8 1399.0,835.3 1399.4,835.1 1399.9,834.2 1400.3,834.7 1400.8,834.5 1401.2,834.5 1401.7,834.0 1402.1,833.3 1402.6,832.9 1403.0,833.2 1403.5,833.0 1403.9,831.9 1404.4,833.4 1404.8,833.0 1405.3,833.0 1405.7,833.7 1406.2,832.5 1406.6,833.9 1407.1,833.5 1407.5,834.0 1408.0,833.7 1408.4,834.0 1408.9,834.0 1409.3,834.0 1409.8,832.8 1410.2,832.4 1410.7,832.9 1411.1,834.1 1411.6,833.6 1412.0,833.9 1412.5,833.8 1412.9,834.0 1413.4,834.3 1413.8,833.0 1414.3,833.3 1414.7,833.2 1415.2,833.0 1415.6,832.5 1416.1,832.3 1416.5,831.9 1417.0,831.7 1417.4,833.6 1417.9,834.3 1418.3,833.7 1418.8,833.7 1419.2,832.7 1419.7,831.0 1420.1,830.5 1420.6,831.4 1421.0,832.8 1421.5,832.8 1421.9,832.3 1422.4,832.5 1422.8,832.2 1423.3,831.9 1423.7,832.4 1424.2,832.7 1424.6,832.6 1425.1,832.6 1425.5,832.6 1426.0,833.4 1426.4,834.5 1426.9,834.3 1427.3,835.7 1427.8,834.3 1428.2,834.6 1428.7,834.1 1429.1,834.3 1429.6,834.7 1430.0,835.2 1430.5,835.9 1430.9,835.4 1431.4,834.7 1431.8,835.0 1432.3,835.5 1432.7,835.2 1433.2,836.1 1433.6,837.1 1434.1,835.9 1434.5,836.3 1435.0,836.9 1435.4,835.7 1435.9,836.2 1436.3,836.3 1436.8,835.7 1437.2,837.0 1437.7,837.2 1438.1,836.9 1438.6,837.3 1439.0,837.8 1439.5,838.1 1439.9,838.3 1440.4,838.3 1440.8,837.5 1441.3,837.4 1441.7,837.8 1442.2,836.4 1442.6,838.4 1443.1,838.2 1443.5,837.7 1444.0,837.0 1444.4,837.8 1444.9,838.2 1445.3,838.1 1445.8,838.2 1446.2,838.0 1446.7,837.9 1447.1,838.3 1447.6,838.3 1448.0,839.1 1448.5,839.1 1448.9,839.3 1449.4,839.6 1449.8,840.3 1450.3,840.3 1450.7,840.2 1451.2,839.9 1451.6,839.4 1452.1,839.3 1452.5,840.0 1453.0,840.1 1453.4,839.8 1453.9,839.2 1454.3,838.7 1454.8,839.5 1455.2,840.4 1455.7,840.6 1456.1,839.7 1456.6,839.9 1457.0,840.3 1457.5,839.8 1457.9,840.2 1458.4,840.2 1458.8,839.8 1459.3,839.3 1459.7,840.1 1460.2,840.4 1460.6,839.8 1461.1,839.4 1461.5,840.2 1462.0,840.6 1462.4,840.2 1462.9,841.1 1463.3,840.5 1463.8,839.7 1464.2,840.5 1464.7,840.2 1465.1,840.3 1465.6,840.2 1466.0,839.5 1466.5,839.0 1466.9,839.3 1467.4,840.3 1467.8,839.6 1468.3,840.5 1468.7,840.4 1469.2,839.5 1469.6,839.8 1470.1,840.1 1470.5,839.5 1471.0,838.5 1471.4,839.3 1471.9,839.0 1472.3,839.7 1472.8,838.8 1473.2,839.4 1473.7,839.3 1474.1,838.9 1474.6,839.4 1475.0,840.0 1475.5,840.0 1475.9,839.6 1476.4,840.2 1476.8,839.5 1477.3,840.4 1477.7,840.9 1478.2,842.0 1478.6,842.2 1479.1,842.0 1479.5,841.9 1480.0,841.7 1480.4,840.8 1480.9,841.9 1481.3,842.1 1481.8,841.7 1482.2,841.1 1482.7,842.2 1483.1,842.4 1483.6,841.5 1484.0,842.0 1484.5,843.0 1484.9,842.4 1485.4,842.4 1485.8,841.8 1486.3,841.4 1486.7,842.1 1487.2,843.7 1487.6,842.9 1488.1,842.3 1488.5,842.4 1489.0,841.9 1489.4,842.1 1489.9,842.3 1490.3,841.4 1490.8,840.8 1491.2,841.0 1491.7,841.6 1492.1,841.6 1492.6,842.2 1493.0,841.0 1493.5,841.4 1493.9,841.0 1494.4,841.1 1494.8,841.3 1495.3,840.7 1495.7,840.7 1496.2,840.2 1496.6,840.7 1497.1,840.4 1497.5,840.3 1498.0,840.7 1498.4,840.4 1498.9,841.3 1499.3,840.7 1499.8,841.3 1500.2,841.2 1500.7,840.4 1501.1,840.4 1501.6,840.0 1502.0,840.1 1502.5,840.1 1502.9,841.4 1503.4,840.8 1503.8,841.6 1504.3,841.4 1504.7,840.3 1505.2,839.4 1505.6,841.6 1506.1,841.9 1506.5,844.2 1507.0,845.5 1507.4,845.7 1507.9,845.5 1508.3,845.4 1508.8,845.7 1509.2,845.6 1509.7,845.5 1510.1,845.5 1510.6,846.5 1511.0,846.1 1511.5,846.5 1511.9,845.8 1512.4,845.8 1512.8,845.4 1513.3,845.9 1513.7,846.7 1514.2,847.1 1514.6,846.9 1515.1,847.4 1515.5,847.2 1516.0,847.6 1516.4,847.8 1516.9,848.1 1517.3,846.6 1517.8,846.4 1518.2,847.6 1518.7,847.8 1519.1,849.3 1519.6,848.9 1520.0,848.4 1520.5,849.3 1520.9,849.3 1521.4,850.1 1521.8,849.8 1522.3,849.2 1522.7,849.4 1523.2,848.7 1523.6,848.4 1524.1,848.2 1524.5,848.3 1525.0,849.0 1525.4,848.6 1525.9,848.9 1526.3,848.6 1526.8,849.2 1527.2,847.5 1527.7,848.0 1528.1,848.5 1528.6,848.1 1529.0,849.1 1529.5,849.2 1529.9,849.9 1530.4,850.1 1530.8,849.9 1531.3,849.4 1531.7,848.5 1532.2,848.4 1532.6,848.2 1533.1,848.5 1533.5,848.2 1534.0,850.0 1534.4,848.4 1534.9,849.0 1535.3,848.4 1535.8,848.1 1536.2,848.6 1536.7,848.4 1537.1,847.5 1537.6,847.8 1538.0,847.7 1538.5,846.5 1538.9,847.1 1539.4,846.6 1539.8,846.5 1540.3,847.2 1540.7,847.4 1541.2,847.2 1541.6,848.5 1542.1,848.2 1542.5,847.4 1543.0,847.4 1543.4,847.1 1543.9,845.7 1544.3,845.3 1544.8,845.0 1545.2,846.9 1545.7,846.7 1546.1,846.5 1546.6,846.1 1547.0,846.8 1547.5,846.6 1547.9,847.5 1548.4,847.4 1548.8,847.9 1549.3,847.1 1549.7,846.9 1550.2,846.2 1550.6,846.0 1551.1,844.9 1551.5,844.9 1552.0,844.6 1552.4,844.6 1552.9,845.7 1553.3,845.8 1553.8,846.3 1554.2,846.4 1554.7,846.5 1555.1,846.5 1555.6,845.6 1556.0,845.9 1556.5,845.3 1556.9,844.9 1557.4,845.6 1557.8,846.6 1558.3,845.4 1558.7,846.2 1559.2,846.2 1559.6,845.2 1560.1,845.2 1560.5,845.3 1561.0,845.3 1561.4,844.9 1561.9,844.1 1562.3,844.4 1562.8,845.0 1563.2,845.4 1563.7,845.5 1564.1,845.8 1564.6,844.8 1565.0,844.7 1565.5,844.9 1565.9,845.3 1566.4,845.1 1566.8,845.2 1567.3,845.0 1567.7,846.0 1568.2,844.1 1568.6,844.2 1569.1,845.8 1569.5,845.3 1570.0,843.8 1570.4,844.0 1570.9,843.1 1571.3,843.0 1571.8,843.4 1572.2,844.5 1572.7,844.3 1573.1,844.3 1573.6,844.4 1574.0,844.0 1574.5,843.1 1574.9,842.9 1575.4,843.0 1575.8,842.7 1576.3,842.2 1576.7,842.1 1577.2,841.3 1577.6,841.0 1578.1,841.4 1578.5,841.4 1579.0,841.5 1579.4,842.4 1579.9,842.4 1580.3,842.2 1580.8,841.5 1581.2,841.1 1581.7,841.8 1582.1,841.5 1582.6,842.1 1583.0,841.6 1583.5,842.0 1583.9,842.2 1584.4,842.9 1584.8,842.6 1585.3,842.4 1585.7,842.7 1586.2,842.8 1586.6,843.9 1587.1,843.4 1587.5,842.9 1588.0,842.8 1588.4,843.3 1588.9,843.4 1589.3,843.8 1589.8,842.8 1590.2,844.5 1590.7,845.2 1591.1,844.6 1591.6,843.5 1592.0,843.7 1592.5,844.0 1592.9,842.7 1593.4,843.2 1593.8,842.7 1594.3,843.5 1594.7,844.6 1595.2,845.0 1595.6,843.9 1596.1,844.9 1596.5,845.2 1597.0,844.7 1597.4,845.0 1597.9,845.7 1598.3,845.1 1598.8,845.0 1599.2,844.6 1599.7,845.4 1600.1,844.0 1600.6,845.2 1601.0,844.6 1601.5,845.4 1601.9,844.4 1602.4,844.2 1602.8,844.3 1603.3,845.3 1603.7,844.4 1604.2,845.2 1604.6,845.0 1605.1,846.0 1605.5,845.8 1606.0,846.1 1606.4,845.9 1606.9,847.0 1607.3,846.4 1607.8,846.2 1608.2,847.4 1608.7,846.9 1609.1,847.1 1609.6,846.3 1610.0,846.5 1610.5,845.2 1610.9,845.8 1611.4,845.7 1611.8,845.2 1612.3,845.0 1612.7,846.3 1613.2,846.8 1613.6,845.9 1614.1,847.4 1614.5,846.8 1615.0,846.7 1615.4,847.0 1615.9,846.4 1616.3,845.7 1616.8,845.8 1617.2,847.0 1617.7,847.5 1618.1,846.4 1618.6,847.3 1619.0,847.2 1619.5,847.3 1619.9,847.2 1620.4,847.3 1620.8,846.5 1621.3,846.1 1621.7,846.0 1622.2,846.1 1622.6,846.7 1623.1,846.0 1623.5,847.2 1624.0,846.6 1624.4,846.3 1624.9,846.8 1625.3,847.0 1625.8,846.6 1626.2,846.0 1626.7,845.6 1627.1,845.0 1627.6,846.3 1628.0,847.0 1628.5,847.8 1628.9,847.5 1629.4,847.3 1629.8,847.5 1630.3,847.8 1630.7,847.3 1631.2,847.3 1631.6,848.5 1632.1,847.0 1632.5,846.2 1633.0,846.1 1633.4,847.1 1633.9,847.9 1634.3,847.6 1634.8,848.0 1635.2,847.9 1635.7,848.0 1636.1,847.7 1636.6,847.8 1637.0,847.9 1637.5,848.7 1637.9,849.8 1638.4,848.2 1638.8,848.6 1639.3,848.6 1639.7,849.2 1640.2,849.6 1640.6,849.8 1641.1,849.9 1641.5,849.0 1642.0,848.1 1642.4,849.5 1642.9,849.9 1643.3,848.8 1643.8,849.4 1644.2,849.4 1644.7,847.5 1645.1,848.2 1645.6,847.5 1646.0,848.3 1646.5,847.7 1646.9,847.2 1647.4,846.4 1647.8,846.6 1648.3,847.4 1648.7,846.8 1649.2,845.8 1649.6,847.4 1650.1,848.1 1650.5,847.9 1651.0,846.9 1651.4,845.9 1651.9,845.0 1652.3,845.7 1652.8,846.5 1653.2,845.5 1653.7,845.5 1654.1,845.3 1654.6,845.1 1655.0,845.4 1655.5,846.4 1655.9,845.5 1656.4,845.9 1656.8,846.2 1657.3,845.7 1657.7,845.4 1658.2,844.6 1658.6,845.5 1659.1,845.2 1659.5,844.9 1660.0,845.1 1660.4,844.8 1660.9,844.5 1661.3,844.7 1661.8,845.9 1662.2,845.7 1662.7,845.9 1663.1,845.0 1663.6,844.1 1664.0,845.8 1664.5,845.5 1664.9,844.7 1665.4,845.1 1665.8,846.0 1666.3,845.5 1666.7,846.0 1667.2,847.1 1667.6,847.3 1668.1,848.7 1668.5,849.8 1669.0,850.3 1669.4,849.7 1669.9,849.6 1670.3,849.1 1670.8,849.1 1671.2,849.3 1671.7,849.0 1672.1,849.6 1672.6,850.8 1673.0,849.7 1673.5,849.5 1673.9,849.6 1674.4,849.5 1674.8,849.0 1675.3,848.4 1675.7,848.9 1676.2,849.0 1676.6,848.9 1677.1,848.1 1677.5,848.4 1678.0,848.6 1678.4,848.1 1678.9,848.3 1679.3,849.2 1679.8,847.4 1680.2,847.7 1680.7,846.9 1681.1,846.2 1681.6,846.4 1682.0,847.0 1682.5,847.0 1682.9,846.2 1683.4,845.6 1683.8,845.7 1684.3,846.0 1684.7,845.7 1685.2,845.1 1685.6,846.6 1686.1,845.9 1686.5,845.9 1687.0,845.6 1687.4,845.4 1687.9,845.6 1688.3,845.5 1688.8,845.9 1689.2,845.1 1689.7,844.4 1690.1,845.9 1690.6,845.6 1691.0,845.9 1691.5,846.2 1691.9,846.1 1692.4,845.6 1692.8,844.4 1693.3,843.6 1693.7,844.6 1694.2,845.0 1694.6,845.1 1695.1,843.8 1695.5,842.8 1696.0,842.8 1696.4,842.6 1696.9,843.3 1697.3,843.0 1697.8,844.3 1698.2,843.8 1698.7,843.5 1699.1,844.1 1699.6,844.1 1700.0,843.4 1700.5,844.0 1700.9,844.9 1701.4,843.6 1701.8,843.4 1702.3,842.7 1702.7,841.8 1703.2,842.7 1703.6,843.3 1704.1,843.7 1704.5,843.7 1705.0,842.2 1705.4,842.4 1705.9,842.2 1706.3,841.7 1706.8,841.4 1707.2,842.3 1707.7,842.2 1708.1,843.5 1708.6,843.3 1709.0,841.8 1709.5,842.6 1709.9,843.2 1710.4,842.9 1710.8,841.9 1711.3,843.1 1711.7,842.0 1712.2,842.1 1712.6,841.0 1713.1,840.8 1713.5,840.3 1714.0,841.7 1714.4,842.6 1714.9,842.1 1715.3,841.3 1715.8,841.6 1716.2,842.0 1716.7,841.1 1717.1,840.8 1717.6,841.2 1718.0,841.9 1718.5,842.0 1718.9,842.2 1719.4,841.3 1719.8,840.1 1720.3,841.0 1720.7,840.8 1721.2,841.1 1721.6,841.2 1722.1,841.7 1722.5,841.3 1723.0,842.4 1723.4,842.3 1723.9,842.5 1724.3,842.7 1724.8,843.1 1725.2,843.0 1725.7,841.6 1726.1,841.5 1726.6,842.9 1727.0,843.0 1727.5,843.1 1727.9,843.1 1728.4,842.5 1728.8,842.1 1729.3,841.9 1729.7,842.9 1730.2,843.0 1730.6,843.9 1731.1,843.8 1731.5,844.5 1732.0,844.1 1732.4,842.9 1732.9,844.0 1733.3,843.8 1733.8,844.2 1734.2,843.9 1734.7,843.4 1735.1,843.4 1735.6,842.7 1736.0,842.2 1736.5,842.1 1736.9,842.3 1737.4,841.9 1737.8,842.5 1738.3,843.1 1738.7,844.4 1739.2,845.2 1739.6,844.5 1740.1,844.7 1740.5,844.2 1741.0,844.2 1741.4,844.0 1741.9,843.7 1742.3,843.8 1742.8,843.0 1743.2,843.6 1743.7,843.6 1744.1,843.2 1744.6,843.3 1745.0,844.0 1745.5,843.7 1745.9,844.2 1746.4,844.6 1746.8,845.4 1747.3,844.4 1747.7,844.3 1748.2,844.7 1748.6,845.5 1749.1,845.4 1749.5,845.7 1750.0,844.5 1750.4,844.4 1750.9,845.8 1751.3,845.4 1751.8,846.7 1752.2,845.9 1752.7,845.7 1753.1,844.8 1753.6,845.7 1754.0,846.0 1754.5,847.3 1754.9,847.0 1755.4,846.6 1755.8,845.8 1756.3,846.1 1756.7,847.0 1757.2,847.4 1757.6,848.0 1758.1,848.2 1758.5,847.8 1759.0,848.0 1759.4,847.9 1759.9,847.0 1760.3,848.3 1760.8,848.4 1761.2,847.6 1761.7,848.0 1762.1,848.3 1762.6,848.9 1763.0,849.5 1763.5,847.3 1763.9,848.2 1764.4,849.3 1764.8,848.6 1765.3,847.6 1765.7,848.4 1766.2,848.9 1766.6,849.3 1767.1,848.7 1767.5,848.8 1768.0,849.2 1768.4,849.9 1768.9,851.2 1769.3,850.9 1769.8,850.2 1770.2,848.8 1770.7,850.1 1771.1,850.1 1771.6,850.2 1772.0,849.7 1772.5,850.5 1772.9,849.4 1773.4,849.9 1773.8,850.2 1774.3,850.6 1774.7,851.3 1775.2,851.0 1775.6,850.9 1776.1,851.3 1776.5,850.1 1777.0,850.2 1777.4,850.4 1777.9,851.1 1778.3,850.5 1778.8,851.0 1779.2,851.0 1779.7,849.8 1780.1,849.1 1780.6,848.6 1781.0,849.3 1781.5,849.7 1781.9,850.2 1782.4,850.5 1782.8,849.8 1783.3,850.4 1783.7,850.5 1784.2,850.3 1784.6,850.2 1785.1,849.1 1785.5,849.3 1786.0,848.6 1786.4,848.0" fill="none" stroke="#a9a9a9" stroke-width="1.1"/>
<line x1="60.5" y1="820" x2="60.5" y2="851.5" stroke="#ddd" stroke-width="1"/>
<line x1="60" y1="851.5" x2="1806" y2="851.5" stroke="#ddd" stroke-width="1"/>
<rect x="60" y="818" width="1728" height="2" fill="#333"/>
<rect x="1796" y="819" width="2.4" height="32" fill="#aaa"/>
<rect x="1796" y="819" width="2.4" height="1.2" fill="#333"/><rect x="1796" y="849.8" width="2.4" height="1.2" fill="#333"/>
<rect x="1787.7" y="818.7" width="8" height="32" fill="#efefef" stroke="#8f9ab5" stroke-width="1"/>
<rect x="1798.7" y="818.7" width="8" height="32" fill="#efefef" stroke="#8f9ab5" stroke-width="1"/>
<line x1="1675" y1="715" x2="1763" y2="715" stroke="#e2e2e2" stroke-width="2" stroke-dasharray="2,2"/>
<line x1="1675" y1="719" x2="1763" y2="719" stroke="#e2e2e2" stroke-width="2" stroke-dasharray="2,2"/>
<path d="M1772.4,720.8 L1781.6,720.8 L1777,712.2 Z" fill="#e4e4e4"/>
<path d="M1795.9,712.2 L1805.1,712.2 L1800.5,720.4 Z" fill="#e4e4e4"/>
<text x="59.8" y="88.3" text-anchor="end" font-size="13.5" fill="#555" font-family="Liberation Sans, Arial, sans-serif">1.26</text>
<text x="59.8" y="168.7" text-anchor="end" font-size="13.5" fill="#555" font-family="Liberation Sans, Arial, sans-serif">1.248</text>
<text x="59.8" y="256.7" text-anchor="end" font-size="13.5" fill="#555" font-family="Liberation Sans, Arial, sans-serif">1.236</text>
<text x="59.8" y="345.7" text-anchor="end" font-size="13.5" fill="#555" font-family="Liberation Sans, Arial, sans-serif">1.224</text>
<text x="59.8" y="433.7" text-anchor="end" font-size="13.5" fill="#555" font-family="Liberation Sans, Arial, sans-serif">1.212</text>
<text x="59.8" y="521.7" text-anchor="end" font-size="13.5" fill="#555" font-family="Liberation Sans, Arial, sans-serif">1.2</text>
<text x="59.8" y="610.7" text-anchor="end" font-size="13.5" fill="#555" font-family="Liberation Sans, Arial, sans-serif">1.188</text>
<text x="59.8" y="692.7" text-anchor="end" font-size="13.5" fill="#555" font-family="Liberation Sans, Arial, sans-serif">1.176</text>
<text x="1806" y="87.3" text-anchor="end" font-size="13.5" fill="#bbb" font-family="Liberation Sans, Arial, sans-serif">3%</text>
<text x="1806" y="175.0" text-anchor="end" font-size="13.5" fill="#bbb" font-family="Liberation Sans, Arial, sans-serif">2%</text>
<text x="1806" y="263.0" text-anchor="end" font-size="13.5" fill="#bbb" font-family="Liberation Sans, Arial, sans-serif">1%</text>
<text x="1806" y="351.0" text-anchor="end" font-size="13.5" fill="#bbb" font-family="Liberation Sans, Arial, sans-serif">0%</text>
<text x="1806" y="440.0" text-anchor="end" font-size="13.5" fill="#bbb" font-family="Liberation Sans, Arial, sans-serif">-1%</text>
<text x="1806" y="528.0" text-anchor="end" font-size="13.5" fill="#bbb" font-family="Liberation Sans, Arial, sans-serif">-2%</text>
<text x="1806" y="616.0" text-anchor="end" font-size="13.5" fill="#bbb" font-family="Liberation Sans, Arial, sans-serif">-3%</text>
<text x="1806" y="692.0" text-anchor="end" font-size="13.5" fill="#bbb" font-family="Liberation Sans, Arial, sans-serif">-4%</text>
<text x="60" y="709.0" text-anchor="start" font-size="13.5" fill="#111" font-family="Liberation Sans, Arial, sans-serif">2023/1/13</text>
<text x="431" y="709.0" text-anchor="middle" font-size="13.5" fill="#111" font-family="Liberation Sans, Arial, sans-serif">2023/2</text>
<text x="977" y="709.0" text-anchor="middle" font-size="13.5" fill="#111" font-family="Liberation Sans, Arial, sans-serif">2023/3</text>
<text x="1604.5" y="709.0" text-anchor="middle" font-size="13.5" fill="#111" font-family="Liberation Sans, Arial, sans-serif">2023/4</text>
<text x="1809" y="709.0" text-anchor="end" font-size="13.5" fill="#111" font-family="Liberation Sans, Arial, sans-serif">2023/4/12</text>
<text x="1643.5" y="128.6" text-anchor="middle" font-size="13.5" fill="#222" font-family="Liberation Sans, Arial, sans-serif">1.2525</text>
<text x="1125" y="677.0" text-anchor="middle" font-size="13.5" fill="#222" font-family="Liberation Sans, Arial, sans-serif">1.1802</text>
<text x="58.5" y="737.0" text-anchor="end" font-size="13.5" fill="#555" font-family="Liberation Sans, Arial, sans-serif">1</text>
<text x="58.5" y="789.5" text-anchor="end" font-size="13.5" fill="#555" font-family="Liberation Sans, Arial, sans-serif">-1</text>
<text x="20" y="720.0" text-anchor="start" font-size="13.5" fill="#777" font-family="Liberation Sans, Arial, sans-serif">MACD</text>
<text x="70.5" y="720.0" text-anchor="start" font-size="13.5" fill="#5468ff" font-family="Liberation Sans, Arial, sans-serif">DIF: 0.0084</text>
<text x="172.5" y="720.0" text-anchor="start" font-size="13.5" fill="#f754f0" font-family="Liberation Sans, Arial, sans-serif">DEA: 0.0082</text>
<text x="275" y="720.0" text-anchor="start" font-size="13.5" fill="#b8321a" font-family="Liberation Sans, Arial, sans-serif">MACD: 0.0004</text>
<text x="193.5" y="844.6" text-anchor="middle" font-size="13.5" fill="#555" font-family="Liberation Sans, Arial, sans-serif">1986</text>
<text x="321.8" y="844.6" text-anchor="middle" font-size="13.5" fill="#555" font-family="Liberation Sans, Arial, sans-serif">1989</text>
<text x="450.2" y="844.6" text-anchor="middle" font-size="13.5" fill="#555" font-family="Liberation Sans, Arial, sans-serif">1992</text>
<text x="578.5" y="844.6" text-anchor="middle" font-size="13.5" fill="#555" font-family="Liberation Sans, Arial, sans-serif">1995</text>
<text x="706.8" y="844.6" text-anchor="middle" font-size="13.5" fill="#555" font-family="Liberation Sans, Arial, sans-serif">1998</text>
<text x="835.2" y="844.6" text-anchor="middle" font-size="13.5" fill="#555" font-family="Liberation Sans, Arial, sans-serif">2001</text>
<text x="963.5" y="844.6" text-anchor="middle" font-size="13.5" fill="#555" font-family="Liberation Sans, Arial, sans-serif">2004</text>
<text x="1091.8" y="844.6" text-anchor="middle" font-size="13.5" fill="#555" font-family="Liberation Sans, Arial, sans-serif">2007</text>
<text x="1220.1" y="844.6" text-anchor="middle" font-size="13.5" fill="#555" font-family="Liberation Sans, Arial, sans-serif">2010</text>
<text x="1348.5" y="844.6" text-anchor="middle" font-size="13.5" fill="#555" font-family="Liberation Sans, Arial, sans-serif">2013</text>
<text x="1476.8" y="844.6" text-anchor="middle" font-size="13.5" fill="#555" font-family="Liberation Sans, Arial, sans-serif">2016</text>
<text x="1605.1" y="844.6" text-anchor="middle" font-size="13.5" fill="#555" font-family="Liberation Sans, Arial, sans-serif">2019</text>
<text x="1733.5" y="844.6" text-anchor="middle" font-size="13.5" fill="#555" font-family="Liberation Sans, Arial, sans-serif">2022</text>
<text x="60" y="72.7" text-anchor="start" font-size="13.5" fill="#ff9db8" font-family="Liberation Sans, Arial, sans-serif">MA5: 1.2419</text>
<text x="163" y="72.7" text-anchor="start" font-size="13.5" fill="#2bbfe0" font-family="Liberation Sans, Arial, sans-serif">MA10: 1.2419</text>
<text x="265" y="72.7" text-anchor="start" font-size="13.5" fill="#ea3270" font-family="Liberation Sans, Arial, sans-serif">MA20: 1.2334</text>
<text x="366.5" y="72.7" text-anchor="start" font-size="13.5" fill="#96bf26" font-family="Liberation Sans, Arial, sans-serif">MA30: 1.2223</text>
</svg>
<div class="info">2023<i>/</i>04<i>/</i>12 <b>开</b> <span class="g">1.24</span> <b>高</b> <span class="r">1.24</span> <b>收</b> <span class="r">1.24</span> <b>低</b> <span class="g">1.24</span> <b>量</b> 0 <span class="r">0.09%</span></div>
<div class="ab" style="left:60.5px"><span>▲</span></div><div class="ab" style="left:87.5px"><span>▼</span></div>
<div style="position:absolute;left:121px;top:793px;width:1px;height:24px;background:#ccc"></div>
<div class="it" style="left:122.0px">无</div><div class="it on" style="left:191.7px">MACD</div><div class="it" style="left:261.4px">KDJ</div><div class="it" style="left:331.1px">RSI</div><div class="it" style="left:400.8px">BOLL</div><div class="it" style="left:470.5px">WR</div><div class="it" style="left:540.2px">DMI</div>
</body></html>
